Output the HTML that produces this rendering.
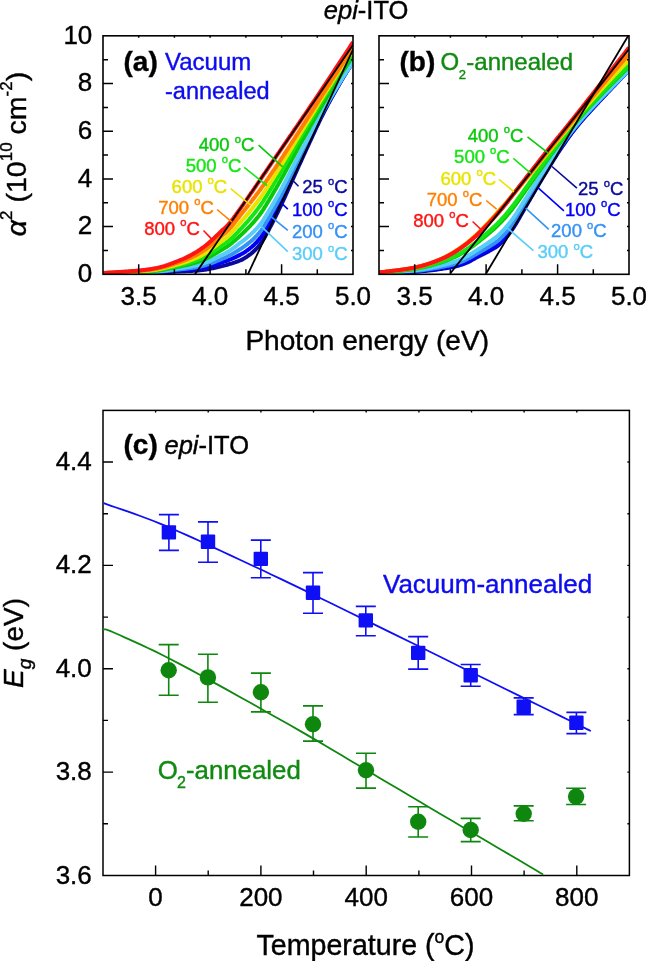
<!DOCTYPE html><html><head><meta charset="utf-8"><style>html,body{margin:0;padding:0;background:#fff;} svg{display:block;will-change:transform} text{font-family:'Liberation Sans',sans-serif}</style></head><body>
<svg width="646" height="961" viewBox="0 0 646 961">
<text x="323.8" y="19.4" font-size="25.5" stroke="#000" stroke-width="0.4"><tspan font-style="italic">epi</tspan>-ITO</text>
<clipPath id="ca"><rect x="103" y="35.8" width="250" height="238.5"/></clipPath>
<g clip-path="url(#ca)">
<path d="M103.0,273.8 L104.0,273.8 L105.0,273.8 L106.0,273.8 L107.0,273.8 L108.0,273.7 L109.0,273.7 L110.0,273.7 L111.0,273.7 L112.0,273.7 L113.0,273.7 L114.0,273.7 L115.0,273.7 L116.0,273.7 L117.0,273.7 L118.0,273.7 L119.0,273.7 L120.0,273.6 L121.0,273.6 L122.0,273.6 L123.0,273.6 L124.0,273.6 L125.0,273.6 L126.0,273.6 L127.0,273.6 L128.0,273.6 L129.0,273.6 L130.0,273.5 L131.0,273.5 L132.0,273.5 L133.0,273.5 L134.0,273.5 L135.0,273.5 L136.0,273.5 L137.0,273.5 L138.0,273.4 L139.0,273.4 L140.0,273.4 L141.0,273.4 L142.0,273.4 L143.0,273.4 L144.0,273.3 L145.0,273.3 L146.0,273.3 L147.0,273.3 L148.0,273.2 L149.0,273.2 L150.0,273.2 L151.0,273.2 L152.0,273.1 L153.0,273.1 L154.0,273.1 L155.0,273.0 L156.0,273.0 L157.0,272.9 L158.0,272.9 L159.0,272.8 L160.0,272.7 L161.0,272.7 L162.0,272.6 L163.0,272.5 L164.0,272.4 L165.0,272.4 L166.0,272.3 L167.0,272.2 L168.0,272.1 L169.0,272.0 L170.0,272.0 L171.0,271.9 L172.0,271.8 L173.0,271.7 L174.0,271.7 L175.0,271.6 L176.0,271.5 L177.0,271.5 L178.0,271.4 L179.0,271.4 L180.0,271.4 L181.0,271.3 L182.0,271.3 L183.0,271.2 L184.0,271.2 L185.0,271.2 L186.0,271.1 L187.0,271.1 L188.0,271.1 L189.0,271.0 L190.0,271.0 L191.0,270.9 L192.0,270.9 L193.0,270.8 L194.0,270.8 L195.0,270.7 L196.0,270.7 L197.0,270.6 L198.0,270.5 L199.0,270.4 L200.0,270.3 L201.0,270.2 L202.0,270.1 L203.0,270.0 L204.0,269.8 L205.0,269.7 L206.0,269.5 L207.0,269.4 L208.0,269.2 L209.0,269.0 L210.0,268.8 L211.0,268.6 L212.0,268.4 L213.0,268.2 L214.0,268.0 L215.0,267.8 L216.0,267.6 L217.0,267.3 L218.0,267.1 L219.0,266.9 L220.0,266.6 L221.0,266.4 L222.0,266.1 L223.0,265.9 L224.0,265.6 L225.0,265.4 L226.0,265.1 L227.0,264.8 L228.0,264.5 L229.0,264.2 L230.0,263.9 L231.0,263.7 L232.0,263.4 L233.0,263.0 L234.0,262.7 L235.0,262.4 L236.0,262.0 L237.0,261.7 L238.0,261.3 L239.0,260.9 L240.0,260.5 L241.0,260.1 L242.0,259.6 L243.0,259.1 L244.0,258.5 L245.0,257.9 L246.0,257.3 L247.0,256.6 L248.0,255.9 L249.0,255.2 L250.0,254.5 L251.0,253.7 L252.0,252.9 L253.0,252.0 L254.0,251.1 L255.0,250.2 L256.0,249.1 L257.0,248.1 L258.0,247.0 L259.0,245.8 L260.0,244.6 L261.0,243.3 L262.0,241.8 L263.0,240.2 L264.0,238.5 L265.0,236.7 L266.0,234.8 L267.0,233.0 L268.0,231.2 L269.0,229.3 L270.0,227.4 L271.0,225.5 L272.0,223.6 L273.0,221.6 L274.0,219.6 L275.0,217.6 L276.0,215.6 L277.0,213.6 L278.0,211.6 L279.0,209.5 L280.0,207.4 L281.0,205.3 L282.0,203.2 L283.0,201.0 L284.0,198.8 L285.0,196.6 L286.0,194.4 L287.0,192.2 L288.0,189.9 L289.0,187.7 L290.0,185.4 L291.0,183.2 L292.0,181.0 L293.0,178.8 L294.0,176.6 L295.0,174.4 L296.0,172.1 L297.0,169.9 L298.0,167.7 L299.0,165.5 L300.0,163.3 L301.0,161.1 L302.0,158.9 L303.0,156.7 L304.0,154.5 L305.0,152.3 L306.0,150.2 L307.0,148.0 L308.0,145.8 L309.0,143.7 L310.0,141.5 L311.0,139.3 L312.0,137.1 L313.0,135.0 L314.0,132.8 L315.0,130.6 L316.0,128.5 L317.0,126.4 L318.0,124.3 L319.0,122.2 L320.0,120.1 L321.0,118.0 L322.0,116.0 L323.0,114.0 L324.0,112.0 L325.0,110.1 L326.0,108.2 L327.0,106.3 L328.0,104.4 L329.0,102.6 L330.0,100.7 L331.0,98.9 L332.0,97.1 L333.0,95.3 L334.0,93.5 L335.0,91.7 L336.0,90.0 L337.0,88.2 L338.0,86.5 L339.0,84.7 L340.0,83.0 L341.0,81.3 L342.0,79.6 L343.0,77.9 L344.0,76.3 L345.0,74.6 L346.0,73.0 L347.0,71.4 L348.0,69.8 L349.0,68.2 L350.0,66.6 L351.0,65.0 L352.0,63.4 L353.0,61.8" stroke="#0a0a9a" stroke-width="4.0" fill="none" stroke-linejoin="round"/>
<path d="M103.0,273.7 L104.0,273.7 L105.0,273.7 L106.0,273.7 L107.0,273.7 L108.0,273.6 L109.0,273.6 L110.0,273.6 L111.0,273.6 L112.0,273.6 L113.0,273.6 L114.0,273.6 L115.0,273.5 L116.0,273.5 L117.0,273.5 L118.0,273.5 L119.0,273.5 L120.0,273.5 L121.0,273.5 L122.0,273.4 L123.0,273.4 L124.0,273.4 L125.0,273.4 L126.0,273.4 L127.0,273.4 L128.0,273.3 L129.0,273.3 L130.0,273.3 L131.0,273.3 L132.0,273.3 L133.0,273.3 L134.0,273.2 L135.0,273.2 L136.0,273.2 L137.0,273.2 L138.0,273.2 L139.0,273.1 L140.0,273.1 L141.0,273.1 L142.0,273.1 L143.0,273.0 L144.0,273.0 L145.0,273.0 L146.0,272.9 L147.0,272.9 L148.0,272.9 L149.0,272.8 L150.0,272.8 L151.0,272.7 L152.0,272.7 L153.0,272.7 L154.0,272.6 L155.0,272.5 L156.0,272.5 L157.0,272.4 L158.0,272.3 L159.0,272.3 L160.0,272.2 L161.0,272.1 L162.0,272.0 L163.0,271.9 L164.0,271.8 L165.0,271.7 L166.0,271.6 L167.0,271.5 L168.0,271.4 L169.0,271.3 L170.0,271.2 L171.0,271.1 L172.0,271.0 L173.0,270.9 L174.0,270.8 L175.0,270.7 L176.0,270.6 L177.0,270.5 L178.0,270.4 L179.0,270.3 L180.0,270.2 L181.0,270.2 L182.0,270.1 L183.0,270.0 L184.0,269.9 L185.0,269.9 L186.0,269.8 L187.0,269.7 L188.0,269.6 L189.0,269.5 L190.0,269.5 L191.0,269.4 L192.0,269.3 L193.0,269.2 L194.0,269.0 L195.0,268.9 L196.0,268.8 L197.0,268.7 L198.0,268.5 L199.0,268.4 L200.0,268.2 L201.0,268.1 L202.0,267.9 L203.0,267.7 L204.0,267.5 L205.0,267.3 L206.0,267.1 L207.0,266.8 L208.0,266.6 L209.0,266.3 L210.0,266.1 L211.0,265.8 L212.0,265.5 L213.0,265.2 L214.0,264.9 L215.0,264.6 L216.0,264.3 L217.0,264.0 L218.0,263.7 L219.0,263.4 L220.0,263.0 L221.0,262.7 L222.0,262.4 L223.0,262.0 L224.0,261.7 L225.0,261.4 L226.0,261.0 L227.0,260.7 L228.0,260.3 L229.0,259.9 L230.0,259.5 L231.0,259.1 L232.0,258.7 L233.0,258.2 L234.0,257.8 L235.0,257.4 L236.0,256.9 L237.0,256.4 L238.0,255.9 L239.0,255.4 L240.0,254.9 L241.0,254.3 L242.0,253.8 L243.0,253.2 L244.0,252.6 L245.0,252.0 L246.0,251.3 L247.0,250.5 L248.0,249.8 L249.0,249.1 L250.0,248.3 L251.0,247.5 L252.0,246.7 L253.0,245.8 L254.0,244.9 L255.0,243.9 L256.0,242.9 L257.0,241.8 L258.0,240.7 L259.0,239.6 L260.0,238.4 L261.0,237.1 L262.0,235.7 L263.0,234.1 L264.0,232.5 L265.0,230.7 L266.0,228.9 L267.0,227.2 L268.0,225.5 L269.0,223.7 L270.0,221.9 L271.0,220.0 L272.0,218.1 L273.0,216.3 L274.0,214.4 L275.0,212.5 L276.0,210.5 L277.0,208.6 L278.0,206.7 L279.0,204.7 L280.0,202.7 L281.0,200.7 L282.0,198.7 L283.0,196.6 L284.0,194.5 L285.0,192.4 L286.0,190.2 L287.0,188.1 L288.0,186.0 L289.0,183.8 L290.0,181.7 L291.0,179.5 L292.0,177.4 L293.0,175.3 L294.0,173.2 L295.0,171.0 L296.0,168.9 L297.0,166.8 L298.0,164.6 L299.0,162.5 L300.0,160.4 L301.0,158.3 L302.0,156.2 L303.0,154.1 L304.0,152.0 L305.0,149.9 L306.0,147.8 L307.0,145.8 L308.0,143.7 L309.0,141.6 L310.0,139.5 L311.0,137.4 L312.0,135.3 L313.0,133.3 L314.0,131.2 L315.0,129.1 L316.0,127.0 L317.0,125.0 L318.0,122.9 L319.0,120.9 L320.0,118.9 L321.0,116.9 L322.0,114.9 L323.0,113.0 L324.0,111.0 L325.0,109.1 L326.0,107.3 L327.0,105.4 L328.0,103.6 L329.0,101.8 L330.0,100.0 L331.0,98.2 L332.0,96.4 L333.0,94.7 L334.0,92.9 L335.0,91.2 L336.0,89.5 L337.0,87.8 L338.0,86.1 L339.0,84.3 L340.0,82.6 L341.0,81.0 L342.0,79.3 L343.0,77.6 L344.0,76.0 L345.0,74.4 L346.0,72.8 L347.0,71.2 L348.0,69.6 L349.0,68.1 L350.0,66.5 L351.0,64.9 L352.0,63.4 L353.0,61.8" stroke="#0000f8" stroke-width="4.0" fill="none" stroke-linejoin="round"/>
<path d="M103.0,273.7 L104.0,273.6 L105.0,273.6 L106.0,273.6 L107.0,273.6 L108.0,273.6 L109.0,273.5 L110.0,273.5 L111.0,273.5 L112.0,273.5 L113.0,273.5 L114.0,273.4 L115.0,273.4 L116.0,273.4 L117.0,273.4 L118.0,273.4 L119.0,273.4 L120.0,273.3 L121.0,273.3 L122.0,273.3 L123.0,273.3 L124.0,273.3 L125.0,273.2 L126.0,273.2 L127.0,273.2 L128.0,273.2 L129.0,273.2 L130.0,273.1 L131.0,273.1 L132.0,273.1 L133.0,273.1 L134.0,273.0 L135.0,273.0 L136.0,273.0 L137.0,273.0 L138.0,272.9 L139.0,272.9 L140.0,272.9 L141.0,272.8 L142.0,272.8 L143.0,272.8 L144.0,272.7 L145.0,272.7 L146.0,272.7 L147.0,272.6 L148.0,272.6 L149.0,272.5 L150.0,272.5 L151.0,272.4 L152.0,272.4 L153.0,272.3 L154.0,272.2 L155.0,272.2 L156.0,272.1 L157.0,272.0 L158.0,271.9 L159.0,271.8 L160.0,271.7 L161.0,271.6 L162.0,271.5 L163.0,271.4 L164.0,271.3 L165.0,271.2 L166.0,271.1 L167.0,270.9 L168.0,270.8 L169.0,270.7 L170.0,270.5 L171.0,270.4 L172.0,270.3 L173.0,270.2 L174.0,270.0 L175.0,269.9 L176.0,269.8 L177.0,269.7 L178.0,269.6 L179.0,269.5 L180.0,269.4 L181.0,269.3 L182.0,269.1 L183.0,269.0 L184.0,268.9 L185.0,268.8 L186.0,268.7 L187.0,268.6 L188.0,268.5 L189.0,268.3 L190.0,268.2 L191.0,268.1 L192.0,267.9 L193.0,267.8 L194.0,267.7 L195.0,267.5 L196.0,267.3 L197.0,267.2 L198.0,267.0 L199.0,266.8 L200.0,266.6 L201.0,266.4 L202.0,266.1 L203.0,265.9 L204.0,265.6 L205.0,265.3 L206.0,265.0 L207.0,264.7 L208.0,264.4 L209.0,264.0 L210.0,263.7 L211.0,263.3 L212.0,263.0 L213.0,262.6 L214.0,262.2 L215.0,261.8 L216.0,261.4 L217.0,261.0 L218.0,260.6 L219.0,260.2 L220.0,259.8 L221.0,259.3 L222.0,258.9 L223.0,258.5 L224.0,258.1 L225.0,257.7 L226.0,257.2 L227.0,256.8 L228.0,256.3 L229.0,255.8 L230.0,255.2 L231.0,254.7 L232.0,254.2 L233.0,253.6 L234.0,253.0 L235.0,252.4 L236.0,251.8 L237.0,251.2 L238.0,250.5 L239.0,249.9 L240.0,249.2 L241.0,248.6 L242.0,248.0 L243.0,247.3 L244.0,246.6 L245.0,245.9 L246.0,245.2 L247.0,244.4 L248.0,243.6 L249.0,242.8 L250.0,242.0 L251.0,241.2 L252.0,240.3 L253.0,239.4 L254.0,238.4 L255.0,237.5 L256.0,236.4 L257.0,235.4 L258.0,234.2 L259.0,233.1 L260.0,231.9 L261.0,230.6 L262.0,229.3 L263.0,227.8 L264.0,226.2 L265.0,224.5 L266.0,222.8 L267.0,221.1 L268.0,219.4 L269.0,217.7 L270.0,216.0 L271.0,214.2 L272.0,212.4 L273.0,210.6 L274.0,208.8 L275.0,206.9 L276.0,205.1 L277.0,203.3 L278.0,201.4 L279.0,199.5 L280.0,197.6 L281.0,195.7 L282.0,193.7 L283.0,191.8 L284.0,189.8 L285.0,187.7 L286.0,185.7 L287.0,183.6 L288.0,181.6 L289.0,179.5 L290.0,177.5 L291.0,175.4 L292.0,173.4 L293.0,171.4 L294.0,169.3 L295.0,167.3 L296.0,165.2 L297.0,163.2 L298.0,161.1 L299.0,159.1 L300.0,157.0 L301.0,155.1 L302.0,153.1 L303.0,151.1 L304.0,149.1 L305.0,147.2 L306.0,145.2 L307.0,143.2 L308.0,141.3 L309.0,139.3 L310.0,137.3 L311.0,135.3 L312.0,133.3 L313.0,131.3 L314.0,129.3 L315.0,127.3 L316.0,125.3 L317.0,123.3 L318.0,121.4 L319.0,119.4 L320.0,117.5 L321.0,115.5 L322.0,113.6 L323.0,111.8 L324.0,109.9 L325.0,108.1 L326.0,106.2 L327.0,104.5 L328.0,102.7 L329.0,100.9 L330.0,99.2 L331.0,97.4 L332.0,95.7 L333.0,94.0 L334.0,92.3 L335.0,90.6 L336.0,88.9 L337.0,87.2 L338.0,85.6 L339.0,83.9 L340.0,82.2 L341.0,80.6 L342.0,78.9 L343.0,77.3 L344.0,75.7 L345.0,74.2 L346.0,72.6 L347.0,71.0 L348.0,69.5 L349.0,68.0 L350.0,66.4 L351.0,64.9 L352.0,63.4 L353.0,61.8" stroke="#3592f5" stroke-width="4.0" fill="none" stroke-linejoin="round"/>
<path d="M103.0,273.6 L104.0,273.6 L105.0,273.5 L106.0,273.5 L107.0,273.5 L108.0,273.4 L109.0,273.4 L110.0,273.4 L111.0,273.4 L112.0,273.4 L113.0,273.3 L114.0,273.3 L115.0,273.3 L116.0,273.3 L117.0,273.2 L118.0,273.2 L119.0,273.2 L120.0,273.2 L121.0,273.1 L122.0,273.1 L123.0,273.1 L124.0,273.1 L125.0,273.0 L126.0,273.0 L127.0,273.0 L128.0,273.0 L129.0,272.9 L130.0,272.9 L131.0,272.9 L132.0,272.8 L133.0,272.8 L134.0,272.8 L135.0,272.7 L136.0,272.7 L137.0,272.7 L138.0,272.6 L139.0,272.6 L140.0,272.6 L141.0,272.5 L142.0,272.5 L143.0,272.4 L144.0,272.4 L145.0,272.4 L146.0,272.3 L147.0,272.2 L148.0,272.2 L149.0,272.1 L150.0,272.1 L151.0,272.0 L152.0,271.9 L153.0,271.9 L154.0,271.8 L155.0,271.7 L156.0,271.6 L157.0,271.5 L158.0,271.4 L159.0,271.3 L160.0,271.2 L161.0,271.1 L162.0,270.9 L163.0,270.8 L164.0,270.7 L165.0,270.5 L166.0,270.4 L167.0,270.2 L168.0,270.1 L169.0,269.9 L170.0,269.8 L171.0,269.6 L172.0,269.4 L173.0,269.3 L174.0,269.1 L175.0,269.0 L176.0,268.8 L177.0,268.7 L178.0,268.5 L179.0,268.4 L180.0,268.2 L181.0,268.1 L182.0,268.0 L183.0,267.8 L184.0,267.7 L185.0,267.5 L186.0,267.4 L187.0,267.2 L188.0,267.0 L189.0,266.9 L190.0,266.7 L191.0,266.5 L192.0,266.3 L193.0,266.1 L194.0,265.9 L195.0,265.7 L196.0,265.5 L197.0,265.3 L198.0,265.0 L199.0,264.8 L200.0,264.5 L201.0,264.2 L202.0,263.9 L203.0,263.6 L204.0,263.2 L205.0,262.9 L206.0,262.5 L207.0,262.1 L208.0,261.7 L209.0,261.3 L210.0,260.9 L211.0,260.4 L212.0,260.0 L213.0,259.5 L214.0,259.0 L215.0,258.5 L216.0,258.0 L217.0,257.5 L218.0,257.0 L219.0,256.5 L220.0,256.0 L221.0,255.5 L222.0,255.0 L223.0,254.5 L224.0,254.0 L225.0,253.5 L226.0,252.9 L227.0,252.4 L228.0,251.8 L229.0,251.1 L230.0,250.5 L231.0,249.8 L232.0,249.1 L233.0,248.4 L234.0,247.7 L235.0,247.0 L236.0,246.2 L237.0,245.4 L238.0,244.6 L239.0,243.8 L240.0,243.0 L241.0,242.3 L242.0,241.6 L243.0,240.9 L244.0,240.1 L245.0,239.3 L246.0,238.5 L247.0,237.6 L248.0,236.8 L249.0,235.9 L250.0,235.0 L251.0,234.2 L252.0,233.2 L253.0,232.3 L254.0,231.3 L255.0,230.2 L256.0,229.2 L257.0,228.1 L258.0,227.0 L259.0,225.8 L260.0,224.6 L261.0,223.3 L262.0,222.0 L263.0,220.5 L264.0,219.0 L265.0,217.3 L266.0,215.7 L267.0,214.1 L268.0,212.5 L269.0,210.8 L270.0,209.1 L271.0,207.4 L272.0,205.7 L273.0,204.0 L274.0,202.3 L275.0,200.5 L276.0,198.7 L277.0,197.0 L278.0,195.2 L279.0,193.4 L280.0,191.6 L281.0,189.7 L282.0,187.9 L283.0,186.0 L284.0,184.1 L285.0,182.2 L286.0,180.2 L287.0,178.3 L288.0,176.3 L289.0,174.4 L290.0,172.4 L291.0,170.5 L292.0,168.5 L293.0,166.6 L294.0,164.6 L295.0,162.7 L296.0,160.7 L297.0,158.8 L298.0,156.8 L299.0,154.8 L300.0,152.9 L301.0,151.1 L302.0,149.2 L303.0,147.4 L304.0,145.6 L305.0,143.7 L306.0,141.9 L307.0,140.0 L308.0,138.2 L309.0,136.3 L310.0,134.5 L311.0,132.6 L312.0,130.7 L313.0,128.8 L314.0,127.0 L315.0,125.1 L316.0,123.2 L317.0,121.3 L318.0,119.4 L319.0,117.6 L320.0,115.7 L321.0,113.9 L322.0,112.1 L323.0,110.3 L324.0,108.5 L325.0,106.7 L326.0,105.0 L327.0,103.2 L328.0,101.5 L329.0,99.8 L330.0,98.1 L331.0,96.5 L332.0,94.8 L333.0,93.1 L334.0,91.5 L335.0,89.8 L336.0,88.2 L337.0,86.6 L338.0,85.0 L339.0,83.3 L340.0,81.7 L341.0,80.1 L342.0,78.5 L343.0,76.9 L344.0,75.4 L345.0,73.9 L346.0,72.3 L347.0,70.8 L348.0,69.3 L349.0,67.8 L350.0,66.3 L351.0,64.8 L352.0,63.3 L353.0,61.8" stroke="#58cdfa" stroke-width="4.0" fill="none" stroke-linejoin="round"/>
<path d="M103.0,273.4 L104.0,273.4 L105.0,273.4 L106.0,273.3 L107.0,273.3 L108.0,273.3 L109.0,273.2 L110.0,273.2 L111.0,273.2 L112.0,273.1 L113.0,273.1 L114.0,273.1 L115.0,273.1 L116.0,273.0 L117.0,273.0 L118.0,273.0 L119.0,272.9 L120.0,272.9 L121.0,272.9 L122.0,272.8 L123.0,272.8 L124.0,272.8 L125.0,272.7 L126.0,272.7 L127.0,272.6 L128.0,272.6 L129.0,272.6 L130.0,272.5 L131.0,272.5 L132.0,272.5 L133.0,272.4 L134.0,272.4 L135.0,272.3 L136.0,272.3 L137.0,272.2 L138.0,272.2 L139.0,272.1 L140.0,272.1 L141.0,272.0 L142.0,272.0 L143.0,271.9 L144.0,271.9 L145.0,271.8 L146.0,271.7 L147.0,271.7 L148.0,271.6 L149.0,271.5 L150.0,271.4 L151.0,271.3 L152.0,271.3 L153.0,271.2 L154.0,271.0 L155.0,270.9 L156.0,270.8 L157.0,270.7 L158.0,270.6 L159.0,270.4 L160.0,270.3 L161.0,270.1 L162.0,270.0 L163.0,269.8 L164.0,269.6 L165.0,269.5 L166.0,269.3 L167.0,269.1 L168.0,268.9 L169.0,268.7 L170.0,268.5 L171.0,268.3 L172.0,268.1 L173.0,267.9 L174.0,267.7 L175.0,267.5 L176.0,267.3 L177.0,267.1 L178.0,266.9 L179.0,266.7 L180.0,266.5 L181.0,266.3 L182.0,266.1 L183.0,265.8 L184.0,265.6 L185.0,265.4 L186.0,265.2 L187.0,265.0 L188.0,264.7 L189.0,264.5 L190.0,264.2 L191.0,264.0 L192.0,263.7 L193.0,263.4 L194.0,263.1 L195.0,262.8 L196.0,262.5 L197.0,262.2 L198.0,261.9 L199.0,261.5 L200.0,261.2 L201.0,260.8 L202.0,260.4 L203.0,260.0 L204.0,259.6 L205.0,259.2 L206.0,258.7 L207.0,258.2 L208.0,257.7 L209.0,257.2 L210.0,256.7 L211.0,256.1 L212.0,255.6 L213.0,255.0 L214.0,254.5 L215.0,253.9 L216.0,253.3 L217.0,252.7 L218.0,252.1 L219.0,251.5 L220.0,250.8 L221.0,250.2 L222.0,249.6 L223.0,249.1 L224.0,248.5 L225.0,247.9 L226.0,247.3 L227.0,246.7 L228.0,246.0 L229.0,245.2 L230.0,244.5 L231.0,243.7 L232.0,242.9 L233.0,242.0 L234.0,241.2 L235.0,240.4 L236.0,239.5 L237.0,238.6 L238.0,237.7 L239.0,236.8 L240.0,235.8 L241.0,234.9 L242.0,234.0 L243.0,233.1 L244.0,232.1 L245.0,231.2 L246.0,230.2 L247.0,229.2 L248.0,228.2 L249.0,227.1 L250.0,226.1 L251.0,225.0 L252.0,223.9 L253.0,222.8 L254.0,221.7 L255.0,220.5 L256.0,219.3 L257.0,218.1 L258.0,216.9 L259.0,215.6 L260.0,214.3 L261.0,212.9 L262.0,211.5 L263.0,210.0 L264.0,208.4 L265.0,206.8 L266.0,205.2 L267.0,203.5 L268.0,201.9 L269.0,200.3 L270.0,198.6 L271.0,196.9 L272.0,195.2 L273.0,193.5 L274.0,191.8 L275.0,190.1 L276.0,188.4 L277.0,186.6 L278.0,184.9 L279.0,183.1 L280.0,181.4 L281.0,179.6 L282.0,177.8 L283.0,176.0 L284.0,174.2 L285.0,172.3 L286.0,170.5 L287.0,168.6 L288.0,166.8 L289.0,164.9 L290.0,163.0 L291.0,161.2 L292.0,159.3 L293.0,157.5 L294.0,155.7 L295.0,153.8 L296.0,152.0 L297.0,150.1 L298.0,148.2 L299.0,146.4 L300.0,144.5 L301.0,142.8 L302.0,141.0 L303.0,139.3 L304.0,137.5 L305.0,135.7 L306.0,134.0 L307.0,132.2 L308.0,130.5 L309.0,128.7 L310.0,126.9 L311.0,125.1 L312.0,123.3 L313.0,121.5 L314.0,119.7 L315.0,117.9 L316.0,116.2 L317.0,114.4 L318.0,112.6 L319.0,110.8 L320.0,109.0 L321.0,107.3 L322.0,105.5 L323.0,103.8 L324.0,102.1 L325.0,100.4 L326.0,98.7 L327.0,97.0 L328.0,95.4 L329.0,93.7 L330.0,92.1 L331.0,90.4 L332.0,88.8 L333.0,87.2 L334.0,85.5 L335.0,83.9 L336.0,82.3 L337.0,80.7 L338.0,79.1 L339.0,77.5 L340.0,75.9 L341.0,74.3 L342.0,72.7 L343.0,71.2 L344.0,69.6 L345.0,68.1 L346.0,66.5 L347.0,65.0 L348.0,63.5 L349.0,62.0 L350.0,60.5 L351.0,59.0 L352.0,57.4 L353.0,55.9" stroke="#0ac80a" stroke-width="4.0" fill="none" stroke-linejoin="round"/>
<path d="M103.0,273.4 L104.0,273.3 L105.0,273.3 L106.0,273.2 L107.0,273.2 L108.0,273.2 L109.0,273.1 L110.0,273.1 L111.0,273.0 L112.0,273.0 L113.0,273.0 L114.0,272.9 L115.0,272.9 L116.0,272.9 L117.0,272.8 L118.0,272.8 L119.0,272.7 L120.0,272.7 L121.0,272.7 L122.0,272.6 L123.0,272.6 L124.0,272.5 L125.0,272.5 L126.0,272.5 L127.0,272.4 L128.0,272.4 L129.0,272.3 L130.0,272.3 L131.0,272.2 L132.0,272.2 L133.0,272.1 L134.0,272.1 L135.0,272.0 L136.0,272.0 L137.0,271.9 L138.0,271.9 L139.0,271.8 L140.0,271.8 L141.0,271.7 L142.0,271.6 L143.0,271.6 L144.0,271.5 L145.0,271.4 L146.0,271.3 L147.0,271.3 L148.0,271.2 L149.0,271.1 L150.0,271.0 L151.0,270.9 L152.0,270.8 L153.0,270.7 L154.0,270.5 L155.0,270.4 L156.0,270.3 L157.0,270.1 L158.0,270.0 L159.0,269.8 L160.0,269.7 L161.0,269.5 L162.0,269.3 L163.0,269.1 L164.0,268.9 L165.0,268.7 L166.0,268.5 L167.0,268.3 L168.0,268.1 L169.0,267.9 L170.0,267.6 L171.0,267.4 L172.0,267.1 L173.0,266.9 L174.0,266.7 L175.0,266.4 L176.0,266.2 L177.0,266.0 L178.0,265.7 L179.0,265.5 L180.0,265.2 L181.0,265.0 L182.0,264.8 L183.0,264.5 L184.0,264.2 L185.0,264.0 L186.0,263.7 L187.0,263.4 L188.0,263.1 L189.0,262.8 L190.0,262.5 L191.0,262.2 L192.0,261.9 L193.0,261.5 L194.0,261.2 L195.0,260.8 L196.0,260.5 L197.0,260.1 L198.0,259.7 L199.0,259.3 L200.0,258.9 L201.0,258.5 L202.0,258.0 L203.0,257.5 L204.0,257.0 L205.0,256.5 L206.0,256.0 L207.0,255.4 L208.0,254.8 L209.0,254.2 L210.0,253.6 L211.0,253.0 L212.0,252.4 L213.0,251.7 L214.0,251.1 L215.0,250.4 L216.0,249.7 L217.0,249.0 L218.0,248.3 L219.0,247.6 L220.0,246.9 L221.0,246.2 L222.0,245.5 L223.0,244.9 L224.0,244.2 L225.0,243.6 L226.0,242.9 L227.0,242.1 L228.0,241.3 L229.0,240.5 L230.0,239.6 L231.0,238.7 L232.0,237.8 L233.0,236.8 L234.0,235.8 L235.0,234.8 L236.0,233.8 L237.0,232.8 L238.0,231.8 L239.0,230.7 L240.0,229.6 L241.0,228.6 L242.0,227.6 L243.0,226.5 L244.0,225.4 L245.0,224.3 L246.0,223.2 L247.0,222.1 L248.0,220.9 L249.0,219.8 L250.0,218.6 L251.0,217.4 L252.0,216.2 L253.0,215.0 L254.0,213.8 L255.0,212.5 L256.0,211.2 L257.0,209.9 L258.0,208.6 L259.0,207.3 L260.0,205.9 L261.0,204.5 L262.0,203.0 L263.0,201.5 L264.0,199.9 L265.0,198.3 L266.0,196.7 L267.0,195.1 L268.0,193.5 L269.0,191.9 L270.0,190.2 L271.0,188.6 L272.0,186.9 L273.0,185.3 L274.0,183.6 L275.0,181.9 L276.0,180.2 L277.0,178.5 L278.0,176.9 L279.0,175.2 L280.0,173.5 L281.0,171.7 L282.0,170.0 L283.0,168.3 L284.0,166.5 L285.0,164.8 L286.0,163.0 L287.0,161.2 L288.0,159.5 L289.0,157.7 L290.0,155.9 L291.0,154.1 L292.0,152.4 L293.0,150.6 L294.0,148.9 L295.0,147.1 L296.0,145.3 L297.0,143.6 L298.0,141.8 L299.0,140.1 L300.0,138.3 L301.0,136.6 L302.0,134.9 L303.0,133.2 L304.0,131.5 L305.0,129.9 L306.0,128.2 L307.0,126.5 L308.0,124.8 L309.0,123.1 L310.0,121.4 L311.0,119.7 L312.0,118.0 L313.0,116.3 L314.0,114.5 L315.0,112.8 L316.0,111.1 L317.0,109.4 L318.0,107.7 L319.0,106.0 L320.0,104.3 L321.0,102.6 L322.0,100.9 L323.0,99.3 L324.0,97.6 L325.0,96.0 L326.0,94.3 L327.0,92.7 L328.0,91.1 L329.0,89.4 L330.0,87.8 L331.0,86.2 L332.0,84.6 L333.0,83.0 L334.0,81.4 L335.0,79.8 L336.0,78.2 L337.0,76.7 L338.0,75.1 L339.0,73.5 L340.0,71.9 L341.0,70.4 L342.0,68.8 L343.0,67.2 L344.0,65.7 L345.0,64.2 L346.0,62.6 L347.0,61.1 L348.0,59.6 L349.0,58.1 L350.0,56.5 L351.0,55.0 L352.0,53.5 L353.0,52.0" stroke="#14e614" stroke-width="4.0" fill="none" stroke-linejoin="round"/>
<path d="M103.0,273.3 L104.0,273.2 L105.0,273.2 L106.0,273.1 L107.0,273.1 L108.0,273.0 L109.0,273.0 L110.0,272.9 L111.0,272.9 L112.0,272.8 L113.0,272.8 L114.0,272.7 L115.0,272.7 L116.0,272.7 L117.0,272.6 L118.0,272.6 L119.0,272.5 L120.0,272.5 L121.0,272.4 L122.0,272.4 L123.0,272.3 L124.0,272.3 L125.0,272.2 L126.0,272.2 L127.0,272.1 L128.0,272.1 L129.0,272.0 L130.0,272.0 L131.0,271.9 L132.0,271.9 L133.0,271.8 L134.0,271.8 L135.0,271.7 L136.0,271.6 L137.0,271.6 L138.0,271.5 L139.0,271.4 L140.0,271.4 L141.0,271.3 L142.0,271.2 L143.0,271.1 L144.0,271.0 L145.0,271.0 L146.0,270.9 L147.0,270.8 L148.0,270.7 L149.0,270.6 L150.0,270.5 L151.0,270.3 L152.0,270.2 L153.0,270.1 L154.0,270.0 L155.0,269.8 L156.0,269.7 L157.0,269.5 L158.0,269.3 L159.0,269.1 L160.0,269.0 L161.0,268.8 L162.0,268.6 L163.0,268.3 L164.0,268.1 L165.0,267.9 L166.0,267.6 L167.0,267.4 L168.0,267.1 L169.0,266.9 L170.0,266.6 L171.0,266.3 L172.0,266.0 L173.0,265.8 L174.0,265.5 L175.0,265.2 L176.0,264.9 L177.0,264.7 L178.0,264.4 L179.0,264.1 L180.0,263.8 L181.0,263.5 L182.0,263.2 L183.0,262.9 L184.0,262.6 L185.0,262.3 L186.0,261.9 L187.0,261.6 L188.0,261.3 L189.0,260.9 L190.0,260.5 L191.0,260.1 L192.0,259.7 L193.0,259.3 L194.0,258.9 L195.0,258.5 L196.0,258.1 L197.0,257.6 L198.0,257.2 L199.0,256.7 L200.0,256.2 L201.0,255.7 L202.0,255.2 L203.0,254.6 L204.0,254.0 L205.0,253.4 L206.0,252.8 L207.0,252.2 L208.0,251.5 L209.0,250.8 L210.0,250.1 L211.0,249.4 L212.0,248.7 L213.0,247.9 L214.0,247.2 L215.0,246.4 L216.0,245.6 L217.0,244.9 L218.0,244.1 L219.0,243.2 L220.0,242.4 L221.0,241.6 L222.0,240.9 L223.0,240.2 L224.0,239.5 L225.0,238.7 L226.0,237.9 L227.0,237.1 L228.0,236.2 L229.0,235.2 L230.0,234.2 L231.0,233.2 L232.0,232.1 L233.0,231.0 L234.0,229.9 L235.0,228.8 L236.0,227.7 L237.0,226.5 L238.0,225.3 L239.0,224.1 L240.0,222.9 L241.0,221.8 L242.0,220.7 L243.0,219.5 L244.0,218.4 L245.0,217.2 L246.0,216.0 L247.0,214.8 L248.0,213.6 L249.0,212.4 L250.0,211.1 L251.0,209.9 L252.0,208.6 L253.0,207.4 L254.0,206.1 L255.0,204.8 L256.0,203.5 L257.0,202.2 L258.0,200.9 L259.0,199.5 L260.0,198.2 L261.0,196.8 L262.0,195.3 L263.0,193.9 L264.0,192.4 L265.0,190.8 L266.0,189.3 L267.0,187.7 L268.0,186.2 L269.0,184.7 L270.0,183.1 L271.0,181.5 L272.0,180.0 L273.0,178.4 L274.0,176.8 L275.0,175.2 L276.0,173.6 L277.0,172.0 L278.0,170.4 L279.0,168.8 L280.0,167.2 L281.0,165.6 L282.0,164.0 L283.0,162.3 L284.0,160.7 L285.0,159.1 L286.0,157.4 L287.0,155.7 L288.0,154.1 L289.0,152.4 L290.0,150.7 L291.0,149.1 L292.0,147.4 L293.0,145.8 L294.0,144.1 L295.0,142.4 L296.0,140.8 L297.0,139.1 L298.0,137.5 L299.0,135.8 L300.0,134.1 L301.0,132.5 L302.0,130.9 L303.0,129.3 L304.0,127.7 L305.0,126.0 L306.0,124.4 L307.0,122.8 L308.0,121.2 L309.0,119.6 L310.0,117.9 L311.0,116.3 L312.0,114.7 L313.0,113.0 L314.0,111.4 L315.0,109.7 L316.0,108.1 L317.0,106.4 L318.0,104.8 L319.0,103.1 L320.0,101.5 L321.0,99.9 L322.0,98.2 L323.0,96.6 L324.0,95.0 L325.0,93.4 L326.0,91.8 L327.0,90.2 L328.0,88.6 L329.0,87.0 L330.0,85.5 L331.0,83.9 L332.0,82.3 L333.0,80.7 L334.0,79.2 L335.0,77.6 L336.0,76.0 L337.0,74.5 L338.0,72.9 L339.0,71.4 L340.0,69.8 L341.0,68.3 L342.0,66.7 L343.0,65.2 L344.0,63.7 L345.0,62.1 L346.0,60.6 L347.0,59.1 L348.0,57.6 L349.0,56.1 L350.0,54.6 L351.0,53.1 L352.0,51.6 L353.0,50.0" stroke="#e8e400" stroke-width="4.0" fill="none" stroke-linejoin="round"/>
<path d="M103.0,273.1 L104.0,273.1 L105.0,273.0 L106.0,273.0 L107.0,272.9 L108.0,272.8 L109.0,272.8 L110.0,272.7 L111.0,272.7 L112.0,272.6 L113.0,272.6 L114.0,272.5 L115.0,272.5 L116.0,272.4 L117.0,272.4 L118.0,272.3 L119.0,272.3 L120.0,272.2 L121.0,272.1 L122.0,272.1 L123.0,272.0 L124.0,272.0 L125.0,271.9 L126.0,271.9 L127.0,271.8 L128.0,271.7 L129.0,271.7 L130.0,271.6 L131.0,271.5 L132.0,271.5 L133.0,271.4 L134.0,271.3 L135.0,271.3 L136.0,271.2 L137.0,271.1 L138.0,271.0 L139.0,271.0 L140.0,270.9 L141.0,270.8 L142.0,270.7 L143.0,270.6 L144.0,270.5 L145.0,270.4 L146.0,270.3 L147.0,270.2 L148.0,270.1 L149.0,270.0 L150.0,269.8 L151.0,269.7 L152.0,269.5 L153.0,269.4 L154.0,269.2 L155.0,269.1 L156.0,268.9 L157.0,268.7 L158.0,268.5 L159.0,268.3 L160.0,268.1 L161.0,267.8 L162.0,267.6 L163.0,267.4 L164.0,267.1 L165.0,266.8 L166.0,266.5 L167.0,266.3 L168.0,266.0 L169.0,265.6 L170.0,265.3 L171.0,265.0 L172.0,264.7 L173.0,264.4 L174.0,264.0 L175.0,263.7 L176.0,263.4 L177.0,263.0 L178.0,262.7 L179.0,262.4 L180.0,262.0 L181.0,261.7 L182.0,261.3 L183.0,260.9 L184.0,260.6 L185.0,260.2 L186.0,259.8 L187.0,259.4 L188.0,259.0 L189.0,258.5 L190.0,258.1 L191.0,257.6 L192.0,257.1 L193.0,256.6 L194.0,256.1 L195.0,255.6 L196.0,255.1 L197.0,254.6 L198.0,254.1 L199.0,253.5 L200.0,252.9 L201.0,252.3 L202.0,251.7 L203.0,251.0 L204.0,250.4 L205.0,249.7 L206.0,249.0 L207.0,248.3 L208.0,247.5 L209.0,246.7 L210.0,245.9 L211.0,245.1 L212.0,244.3 L213.0,243.5 L214.0,242.6 L215.0,241.8 L216.0,240.9 L217.0,240.0 L218.0,239.1 L219.0,238.2 L220.0,237.3 L221.0,236.4 L222.0,235.6 L223.0,234.8 L224.0,234.0 L225.0,233.2 L226.0,232.3 L227.0,231.4 L228.0,230.4 L229.0,229.3 L230.0,228.2 L231.0,227.1 L232.0,225.9 L233.0,224.7 L234.0,223.4 L235.0,222.2 L236.0,220.9 L237.0,219.6 L238.0,218.3 L239.0,217.1 L240.0,215.7 L241.0,214.5 L242.0,213.3 L243.0,212.0 L244.0,210.8 L245.0,209.5 L246.0,208.3 L247.0,207.0 L248.0,205.7 L249.0,204.4 L250.0,203.2 L251.0,201.9 L252.0,200.6 L253.0,199.3 L254.0,198.0 L255.0,196.7 L256.0,195.3 L257.0,194.0 L258.0,192.7 L259.0,191.3 L260.0,190.0 L261.0,188.6 L262.0,187.2 L263.0,185.8 L264.0,184.4 L265.0,182.9 L266.0,181.5 L267.0,180.0 L268.0,178.6 L269.0,177.1 L270.0,175.7 L271.0,174.2 L272.0,172.7 L273.0,171.2 L274.0,169.8 L275.0,168.3 L276.0,166.8 L277.0,165.3 L278.0,163.8 L279.0,162.3 L280.0,160.8 L281.0,159.3 L282.0,157.8 L283.0,156.3 L284.0,154.7 L285.0,153.2 L286.0,151.7 L287.0,150.1 L288.0,148.6 L289.0,147.0 L290.0,145.5 L291.0,144.0 L292.0,142.4 L293.0,140.9 L294.0,139.3 L295.0,137.8 L296.0,136.2 L297.0,134.6 L298.0,133.1 L299.0,131.5 L300.0,130.0 L301.0,128.4 L302.0,126.9 L303.0,125.3 L304.0,123.8 L305.0,122.2 L306.0,120.7 L307.0,119.1 L308.0,117.6 L309.0,116.0 L310.0,114.5 L311.0,112.9 L312.0,111.3 L313.0,109.8 L314.0,108.2 L315.0,106.6 L316.0,105.0 L317.0,103.4 L318.0,101.9 L319.0,100.3 L320.0,98.7 L321.0,97.1 L322.0,95.5 L323.0,94.0 L324.0,92.4 L325.0,90.8 L326.0,89.3 L327.0,87.7 L328.0,86.2 L329.0,84.6 L330.0,83.1 L331.0,81.5 L332.0,80.0 L333.0,78.5 L334.0,76.9 L335.0,75.4 L336.0,73.8 L337.0,72.3 L338.0,70.8 L339.0,69.2 L340.0,67.7 L341.0,66.2 L342.0,64.6 L343.0,63.1 L344.0,61.6 L345.0,60.1 L346.0,58.6 L347.0,57.1 L348.0,55.6 L349.0,54.1 L350.0,52.6 L351.0,51.1 L352.0,49.6 L353.0,48.1" stroke="#ff8000" stroke-width="4.0" fill="none" stroke-linejoin="round"/>
<path d="M103.0,273.0 L104.0,272.9 L105.0,272.9 L106.0,272.8 L107.0,272.7 L108.0,272.7 L109.0,272.6 L110.0,272.6 L111.0,272.5 L112.0,272.4 L113.0,272.4 L114.0,272.3 L115.0,272.2 L116.0,272.2 L117.0,272.1 L118.0,272.1 L119.0,272.0 L120.0,271.9 L121.0,271.9 L122.0,271.8 L123.0,271.7 L124.0,271.7 L125.0,271.6 L126.0,271.5 L127.0,271.5 L128.0,271.4 L129.0,271.3 L130.0,271.2 L131.0,271.2 L132.0,271.1 L133.0,271.0 L134.0,270.9 L135.0,270.9 L136.0,270.8 L137.0,270.7 L138.0,270.6 L139.0,270.5 L140.0,270.4 L141.0,270.3 L142.0,270.2 L143.0,270.1 L144.0,270.0 L145.0,269.9 L146.0,269.7 L147.0,269.6 L148.0,269.5 L149.0,269.3 L150.0,269.2 L151.0,269.0 L152.0,268.9 L153.0,268.7 L154.0,268.5 L155.0,268.3 L156.0,268.1 L157.0,267.9 L158.0,267.7 L159.0,267.4 L160.0,267.2 L161.0,266.9 L162.0,266.7 L163.0,266.4 L164.0,266.1 L165.0,265.8 L166.0,265.4 L167.0,265.1 L168.0,264.8 L169.0,264.4 L170.0,264.1 L171.0,263.7 L172.0,263.3 L173.0,263.0 L174.0,262.6 L175.0,262.2 L176.0,261.8 L177.0,261.4 L178.0,261.0 L179.0,260.6 L180.0,260.2 L181.0,259.8 L182.0,259.4 L183.0,259.0 L184.0,258.5 L185.0,258.1 L186.0,257.6 L187.0,257.1 L188.0,256.6 L189.0,256.1 L190.0,255.6 L191.0,255.1 L192.0,254.5 L193.0,253.9 L194.0,253.4 L195.0,252.8 L196.0,252.2 L197.0,251.6 L198.0,250.9 L199.0,250.3 L200.0,249.6 L201.0,248.9 L202.0,248.2 L203.0,247.5 L204.0,246.8 L205.0,246.0 L206.0,245.2 L207.0,244.4 L208.0,243.6 L209.0,242.7 L210.0,241.8 L211.0,240.9 L212.0,240.0 L213.0,239.1 L214.0,238.2 L215.0,237.2 L216.0,236.2 L217.0,235.3 L218.0,234.3 L219.0,233.3 L220.0,232.3 L221.0,231.4 L222.0,230.4 L223.0,229.6 L224.0,228.8 L225.0,227.9 L226.0,227.0 L227.0,226.0 L228.0,224.9 L229.0,223.7 L230.0,222.5 L231.0,221.3 L232.0,220.0 L233.0,218.7 L234.0,217.3 L235.0,216.0 L236.0,214.6 L237.0,213.2 L238.0,211.8 L239.0,210.5 L240.0,209.0 L241.0,207.6 L242.0,206.2 L243.0,204.8 L244.0,203.3 L245.0,201.9 L246.0,200.5 L247.0,199.0 L248.0,197.6 L249.0,196.1 L250.0,194.7 L251.0,193.2 L252.0,191.8 L253.0,190.3 L254.0,188.9 L255.0,187.4 L256.0,186.0 L257.0,184.5 L258.0,183.0 L259.0,181.6 L260.0,180.1 L261.0,178.6 L262.0,177.2 L263.0,175.7 L264.0,174.2 L265.0,172.8 L266.0,171.3 L267.0,169.8 L268.0,168.4 L269.0,166.9 L270.0,165.4 L271.0,164.0 L272.0,162.5 L273.0,161.0 L274.0,159.6 L275.0,158.1 L276.0,156.6 L277.0,155.2 L278.0,153.7 L279.0,152.3 L280.0,150.8 L281.0,149.3 L282.0,147.9 L283.0,146.4 L284.0,145.0 L285.0,143.5 L286.0,142.1 L287.0,140.6 L288.0,139.1 L289.0,137.7 L290.0,136.2 L291.0,134.8 L292.0,133.3 L293.0,131.9 L294.0,130.4 L295.0,128.9 L296.0,127.5 L297.0,126.0 L298.0,124.5 L299.0,123.1 L300.0,121.6 L301.0,120.1 L302.0,118.7 L303.0,117.2 L304.0,115.7 L305.0,114.3 L306.0,112.8 L307.0,111.3 L308.0,109.9 L309.0,108.4 L310.0,106.9 L311.0,105.4 L312.0,103.9 L313.0,102.5 L314.0,101.0 L315.0,99.5 L316.0,98.0 L317.0,96.5 L318.0,95.0 L319.0,93.5 L320.0,92.0 L321.0,90.5 L322.0,89.0 L323.0,87.5 L324.0,86.0 L325.0,84.5 L326.0,83.0 L327.0,81.5 L328.0,80.0 L329.0,78.5 L330.0,77.0 L331.0,75.5 L332.0,74.0 L333.0,72.5 L334.0,71.0 L335.0,69.4 L336.0,67.9 L337.0,66.4 L338.0,64.9 L339.0,63.4 L340.0,61.9 L341.0,60.4 L342.0,58.9 L343.0,57.3 L344.0,55.8 L345.0,54.3 L346.0,52.8 L347.0,51.3 L348.0,49.8 L349.0,48.3 L350.0,46.7 L351.0,45.2 L352.0,43.7 L353.0,42.2" stroke="#ff1414" stroke-width="4.0" fill="none" stroke-linejoin="round"/>
</g>
<clipPath id="cb"><rect x="379" y="35.8" width="250" height="238.5"/></clipPath>
<g clip-path="url(#cb)">
<path d="M379.0,273.2 L380.0,273.2 L381.0,273.1 L382.0,273.1 L383.0,273.1 L384.0,273.0 L385.0,273.0 L386.0,273.0 L387.0,272.9 L388.0,272.9 L389.0,272.9 L390.0,272.9 L391.0,272.8 L392.0,272.8 L393.0,272.8 L394.0,272.7 L395.0,272.7 L396.0,272.7 L397.0,272.6 L398.0,272.6 L399.0,272.5 L400.0,272.5 L401.0,272.5 L402.0,272.4 L403.0,272.4 L404.0,272.4 L405.0,272.3 L406.0,272.3 L407.0,272.2 L408.0,272.2 L409.0,272.1 L410.0,272.1 L411.0,272.0 L412.0,272.0 L413.0,271.9 L414.0,271.8 L415.0,271.8 L416.0,271.7 L417.0,271.6 L418.0,271.5 L419.0,271.5 L420.0,271.4 L421.0,271.3 L422.0,271.2 L423.0,271.1 L424.0,271.0 L425.0,270.9 L426.0,270.8 L427.0,270.7 L428.0,270.6 L429.0,270.5 L430.0,270.4 L431.0,270.3 L432.0,270.2 L433.0,270.0 L434.0,269.9 L435.0,269.8 L436.0,269.7 L437.0,269.5 L438.0,269.4 L439.0,269.2 L440.0,269.1 L441.0,268.9 L442.0,268.8 L443.0,268.6 L444.0,268.5 L445.0,268.3 L446.0,268.2 L447.0,268.0 L448.0,267.9 L449.0,267.7 L450.0,267.5 L451.0,267.3 L452.0,267.1 L453.0,266.9 L454.0,266.7 L455.0,266.5 L456.0,266.3 L457.0,266.0 L458.0,265.8 L459.0,265.5 L460.0,265.2 L461.0,264.9 L462.0,264.6 L463.0,264.2 L464.0,263.9 L465.0,263.5 L466.0,263.0 L467.0,262.6 L468.0,262.1 L469.0,261.6 L470.0,261.1 L471.0,260.6 L472.0,260.0 L473.0,259.5 L474.0,258.9 L475.0,258.4 L476.0,257.8 L477.0,257.3 L478.0,256.8 L479.0,256.3 L480.0,255.8 L481.0,255.3 L482.0,254.8 L483.0,254.3 L484.0,253.8 L485.0,253.2 L486.0,252.7 L487.0,252.2 L488.0,251.6 L489.0,251.1 L490.0,250.5 L491.0,249.9 L492.0,249.4 L493.0,248.8 L494.0,248.2 L495.0,247.7 L496.0,247.1 L497.0,246.4 L498.0,245.6 L499.0,244.8 L500.0,243.9 L501.0,242.9 L502.0,241.9 L503.0,240.8 L504.0,239.8 L505.0,238.7 L506.0,237.5 L507.0,236.3 L508.0,235.1 L509.0,233.9 L510.0,232.6 L511.0,231.2 L512.0,229.8 L513.0,228.4 L514.0,226.9 L515.0,225.3 L516.0,223.7 L517.0,222.0 L518.0,220.3 L519.0,218.6 L520.0,216.8 L521.0,215.1 L522.0,213.3 L523.0,211.5 L524.0,209.7 L525.0,208.0 L526.0,206.2 L527.0,204.5 L528.0,202.8 L529.0,201.1 L530.0,199.4 L531.0,197.6 L532.0,195.9 L533.0,194.2 L534.0,192.5 L535.0,190.8 L536.0,189.0 L537.0,187.4 L538.0,185.7 L539.0,184.0 L540.0,182.3 L541.0,180.7 L542.0,179.0 L543.0,177.3 L544.0,175.7 L545.0,174.0 L546.0,172.4 L547.0,170.7 L548.0,169.1 L549.0,167.4 L550.0,165.8 L551.0,164.1 L552.0,162.5 L553.0,160.9 L554.0,159.3 L555.0,157.7 L556.0,156.1 L557.0,154.5 L558.0,153.0 L559.0,151.5 L560.0,150.0 L561.0,148.5 L562.0,147.0 L563.0,145.5 L564.0,144.1 L565.0,142.6 L566.0,141.2 L567.0,139.7 L568.0,138.3 L569.0,136.9 L570.0,135.5 L571.0,134.2 L572.0,132.8 L573.0,131.5 L574.0,130.2 L575.0,128.9 L576.0,127.7 L577.0,126.4 L578.0,125.2 L579.0,124.0 L580.0,122.8 L581.0,121.6 L582.0,120.5 L583.0,119.3 L584.0,118.2 L585.0,117.0 L586.0,115.9 L587.0,114.8 L588.0,113.7 L589.0,112.6 L590.0,111.5 L591.0,110.4 L592.0,109.3 L593.0,108.2 L594.0,107.1 L595.0,106.0 L596.0,105.0 L597.0,103.9 L598.0,102.8 L599.0,101.7 L600.0,100.7 L601.0,99.6 L602.0,98.5 L603.0,97.5 L604.0,96.4 L605.0,95.3 L606.0,94.3 L607.0,93.2 L608.0,92.2 L609.0,91.1 L610.0,90.0 L611.0,89.0 L612.0,87.9 L613.0,86.9 L614.0,85.8 L615.0,84.8 L616.0,83.7 L617.0,82.7 L618.0,81.6 L619.0,80.6 L620.0,79.5 L621.0,78.5 L622.0,77.4 L623.0,76.3 L624.0,75.3 L625.0,74.2 L626.0,73.2 L627.0,72.1 L628.0,71.1 L629.0,70.0" stroke="#0a0a9a" stroke-width="4.0" fill="none" stroke-linejoin="round"/>
<path d="M379.0,273.1 L380.0,273.1 L381.0,273.1 L382.0,273.0 L383.0,273.0 L384.0,272.9 L385.0,272.9 L386.0,272.9 L387.0,272.8 L388.0,272.8 L389.0,272.8 L390.0,272.7 L391.0,272.7 L392.0,272.6 L393.0,272.6 L394.0,272.6 L395.0,272.5 L396.0,272.5 L397.0,272.5 L398.0,272.4 L399.0,272.4 L400.0,272.3 L401.0,272.3 L402.0,272.2 L403.0,272.2 L404.0,272.1 L405.0,272.1 L406.0,272.1 L407.0,272.0 L408.0,271.9 L409.0,271.9 L410.0,271.8 L411.0,271.8 L412.0,271.7 L413.0,271.6 L414.0,271.6 L415.0,271.5 L416.0,271.4 L417.0,271.3 L418.0,271.2 L419.0,271.2 L420.0,271.1 L421.0,271.0 L422.0,270.9 L423.0,270.8 L424.0,270.7 L425.0,270.6 L426.0,270.5 L427.0,270.3 L428.0,270.2 L429.0,270.1 L430.0,270.0 L431.0,269.9 L432.0,269.7 L433.0,269.6 L434.0,269.5 L435.0,269.3 L436.0,269.2 L437.0,269.0 L438.0,268.9 L439.0,268.7 L440.0,268.6 L441.0,268.4 L442.0,268.3 L443.0,268.1 L444.0,267.9 L445.0,267.8 L446.0,267.6 L447.0,267.4 L448.0,267.2 L449.0,267.1 L450.0,266.9 L451.0,266.7 L452.0,266.5 L453.0,266.3 L454.0,266.0 L455.0,265.8 L456.0,265.6 L457.0,265.3 L458.0,265.0 L459.0,264.8 L460.0,264.5 L461.0,264.1 L462.0,263.8 L463.0,263.4 L464.0,263.1 L465.0,262.6 L466.0,262.2 L467.0,261.7 L468.0,261.3 L469.0,260.8 L470.0,260.3 L471.0,259.7 L472.0,259.2 L473.0,258.6 L474.0,258.1 L475.0,257.5 L476.0,257.0 L477.0,256.4 L478.0,255.9 L479.0,255.4 L480.0,254.9 L481.0,254.4 L482.0,253.9 L483.0,253.3 L484.0,252.8 L485.0,252.3 L486.0,251.8 L487.0,251.2 L488.0,250.7 L489.0,250.1 L490.0,249.6 L491.0,249.0 L492.0,248.4 L493.0,247.8 L494.0,247.3 L495.0,246.7 L496.0,246.1 L497.0,245.4 L498.0,244.6 L499.0,243.8 L500.0,242.9 L501.0,241.9 L502.0,240.9 L503.0,239.8 L504.0,238.7 L505.0,237.6 L506.0,236.4 L507.0,235.2 L508.0,234.0 L509.0,232.7 L510.0,231.4 L511.0,230.1 L512.0,228.7 L513.0,227.2 L514.0,225.7 L515.0,224.2 L516.0,222.5 L517.0,220.9 L518.0,219.2 L519.0,217.4 L520.0,215.7 L521.0,213.9 L522.0,212.1 L523.0,210.4 L524.0,208.6 L525.0,206.9 L526.0,205.1 L527.0,203.4 L528.0,201.7 L529.0,200.0 L530.0,198.3 L531.0,196.6 L532.0,194.9 L533.0,193.1 L534.0,191.4 L535.0,189.7 L536.0,188.0 L537.0,186.4 L538.0,184.7 L539.0,183.0 L540.0,181.3 L541.0,179.7 L542.0,178.0 L543.0,176.4 L544.0,174.8 L545.0,173.1 L546.0,171.5 L547.0,169.8 L548.0,168.2 L549.0,166.5 L550.0,164.9 L551.0,163.3 L552.0,161.7 L553.0,160.1 L554.0,158.5 L555.0,156.9 L556.0,155.3 L557.0,153.8 L558.0,152.2 L559.0,150.7 L560.0,149.2 L561.0,147.8 L562.0,146.3 L563.0,144.9 L564.0,143.4 L565.0,142.0 L566.0,140.6 L567.0,139.1 L568.0,137.7 L569.0,136.3 L570.0,135.0 L571.0,133.6 L572.0,132.3 L573.0,131.0 L574.0,129.7 L575.0,128.4 L576.0,127.2 L577.0,126.0 L578.0,124.8 L579.0,123.6 L580.0,122.4 L581.0,121.2 L582.0,120.0 L583.0,118.9 L584.0,117.7 L585.0,116.6 L586.0,115.5 L587.0,114.4 L588.0,113.3 L589.0,112.2 L590.0,111.1 L591.0,110.0 L592.0,108.9 L593.0,107.8 L594.0,106.7 L595.0,105.7 L596.0,104.6 L597.0,103.5 L598.0,102.5 L599.0,101.4 L600.0,100.3 L601.0,99.3 L602.0,98.2 L603.0,97.2 L604.0,96.1 L605.0,95.0 L606.0,94.0 L607.0,92.9 L608.0,91.9 L609.0,90.8 L610.0,89.8 L611.0,88.7 L612.0,87.7 L613.0,86.7 L614.0,85.6 L615.0,84.6 L616.0,83.5 L617.0,82.5 L618.0,81.5 L619.0,80.4 L620.0,79.4 L621.0,78.3 L622.0,77.3 L623.0,76.3 L624.0,75.2 L625.0,74.2 L626.0,73.1 L627.0,72.1 L628.0,71.0 L629.0,70.0" stroke="#0000f8" stroke-width="4.0" fill="none" stroke-linejoin="round"/>
<path d="M379.0,273.0 L380.0,273.0 L381.0,272.9 L382.0,272.9 L383.0,272.8 L384.0,272.8 L385.0,272.7 L386.0,272.7 L387.0,272.6 L388.0,272.6 L389.0,272.5 L390.0,272.5 L391.0,272.4 L392.0,272.4 L393.0,272.3 L394.0,272.3 L395.0,272.2 L396.0,272.2 L397.0,272.1 L398.0,272.1 L399.0,272.0 L400.0,272.0 L401.0,271.9 L402.0,271.9 L403.0,271.8 L404.0,271.7 L405.0,271.7 L406.0,271.6 L407.0,271.5 L408.0,271.5 L409.0,271.4 L410.0,271.3 L411.0,271.3 L412.0,271.2 L413.0,271.1 L414.0,271.0 L415.0,270.9 L416.0,270.8 L417.0,270.7 L418.0,270.6 L419.0,270.5 L420.0,270.4 L421.0,270.3 L422.0,270.2 L423.0,270.0 L424.0,269.9 L425.0,269.8 L426.0,269.6 L427.0,269.5 L428.0,269.3 L429.0,269.2 L430.0,269.0 L431.0,268.9 L432.0,268.7 L433.0,268.6 L434.0,268.4 L435.0,268.2 L436.0,268.1 L437.0,267.9 L438.0,267.7 L439.0,267.5 L440.0,267.3 L441.0,267.1 L442.0,266.9 L443.0,266.7 L444.0,266.5 L445.0,266.3 L446.0,266.1 L447.0,265.9 L448.0,265.7 L449.0,265.5 L450.0,265.2 L451.0,265.0 L452.0,264.7 L453.0,264.5 L454.0,264.2 L455.0,263.9 L456.0,263.6 L457.0,263.3 L458.0,263.0 L459.0,262.7 L460.0,262.3 L461.0,262.0 L462.0,261.6 L463.0,261.2 L464.0,260.8 L465.0,260.3 L466.0,259.8 L467.0,259.3 L468.0,258.8 L469.0,258.3 L470.0,257.7 L471.0,257.2 L472.0,256.6 L473.0,256.0 L474.0,255.4 L475.0,254.8 L476.0,254.2 L477.0,253.7 L478.0,253.1 L479.0,252.5 L480.0,252.0 L481.0,251.4 L482.0,250.8 L483.0,250.3 L484.0,249.7 L485.0,249.1 L486.0,248.5 L487.0,247.9 L488.0,247.3 L489.0,246.7 L490.0,246.1 L491.0,245.4 L492.0,244.8 L493.0,244.2 L494.0,243.6 L495.0,242.9 L496.0,242.2 L497.0,241.5 L498.0,240.7 L499.0,239.9 L500.0,238.9 L501.0,237.9 L502.0,236.9 L503.0,235.8 L504.0,234.7 L505.0,233.6 L506.0,232.5 L507.0,231.3 L508.0,230.0 L509.0,228.8 L510.0,227.5 L511.0,226.1 L512.0,224.7 L513.0,223.3 L514.0,221.8 L515.0,220.3 L516.0,218.7 L517.0,217.1 L518.0,215.5 L519.0,213.8 L520.0,212.1 L521.0,210.4 L522.0,208.7 L523.0,207.0 L524.0,205.3 L525.0,203.6 L526.0,202.0 L527.0,200.3 L528.0,198.7 L529.0,197.0 L530.0,195.4 L531.0,193.7 L532.0,192.0 L533.0,190.4 L534.0,188.7 L535.0,187.1 L536.0,185.4 L537.0,183.8 L538.0,182.2 L539.0,180.6 L540.0,178.9 L541.0,177.3 L542.0,175.7 L543.0,174.2 L544.0,172.6 L545.0,171.0 L546.0,169.4 L547.0,167.8 L548.0,166.2 L549.0,164.6 L550.0,163.0 L551.0,161.4 L552.0,159.9 L553.0,158.3 L554.0,156.7 L555.0,155.2 L556.0,153.7 L557.0,152.2 L558.0,150.7 L559.0,149.2 L560.0,147.7 L561.0,146.3 L562.0,144.9 L563.0,143.5 L564.0,142.1 L565.0,140.7 L566.0,139.3 L567.0,137.9 L568.0,136.6 L569.0,135.2 L570.0,133.9 L571.0,132.5 L572.0,131.2 L573.0,130.0 L574.0,128.7 L575.0,127.4 L576.0,126.2 L577.0,125.0 L578.0,123.8 L579.0,122.6 L580.0,121.4 L581.0,120.3 L582.0,119.1 L583.0,118.0 L584.0,116.9 L585.0,115.8 L586.0,114.6 L587.0,113.5 L588.0,112.4 L589.0,111.3 L590.0,110.3 L591.0,109.2 L592.0,108.1 L593.0,107.0 L594.0,106.0 L595.0,104.9 L596.0,103.9 L597.0,102.8 L598.0,101.7 L599.0,100.7 L600.0,99.6 L601.0,98.6 L602.0,97.6 L603.0,96.5 L604.0,95.5 L605.0,94.4 L606.0,93.4 L607.0,92.4 L608.0,91.3 L609.0,90.3 L610.0,89.3 L611.0,88.3 L612.0,87.2 L613.0,86.2 L614.0,85.2 L615.0,84.2 L616.0,83.2 L617.0,82.1 L618.0,81.1 L619.0,80.1 L620.0,79.1 L621.0,78.1 L622.0,77.1 L623.0,76.1 L624.0,75.1 L625.0,74.1 L626.0,73.0 L627.0,72.0 L628.0,71.0 L629.0,70.0" stroke="#3592f5" stroke-width="4.0" fill="none" stroke-linejoin="round"/>
<path d="M379.0,272.9 L380.0,272.8 L381.0,272.8 L382.0,272.7 L383.0,272.6 L384.0,272.6 L385.0,272.5 L386.0,272.5 L387.0,272.4 L388.0,272.3 L389.0,272.3 L390.0,272.2 L391.0,272.1 L392.0,272.1 L393.0,272.0 L394.0,271.9 L395.0,271.9 L396.0,271.8 L397.0,271.7 L398.0,271.7 L399.0,271.6 L400.0,271.5 L401.0,271.5 L402.0,271.4 L403.0,271.3 L404.0,271.2 L405.0,271.2 L406.0,271.1 L407.0,271.0 L408.0,270.9 L409.0,270.8 L410.0,270.7 L411.0,270.6 L412.0,270.5 L413.0,270.4 L414.0,270.3 L415.0,270.2 L416.0,270.1 L417.0,269.9 L418.0,269.8 L419.0,269.7 L420.0,269.5 L421.0,269.4 L422.0,269.2 L423.0,269.1 L424.0,268.9 L425.0,268.8 L426.0,268.6 L427.0,268.4 L428.0,268.3 L429.0,268.1 L430.0,267.9 L431.0,267.7 L432.0,267.5 L433.0,267.3 L434.0,267.1 L435.0,266.9 L436.0,266.7 L437.0,266.5 L438.0,266.2 L439.0,266.0 L440.0,265.8 L441.0,265.5 L442.0,265.3 L443.0,265.1 L444.0,264.8 L445.0,264.6 L446.0,264.3 L447.0,264.0 L448.0,263.8 L449.0,263.5 L450.0,263.2 L451.0,262.9 L452.0,262.6 L453.0,262.2 L454.0,261.9 L455.0,261.6 L456.0,261.2 L457.0,260.8 L458.0,260.5 L459.0,260.1 L460.0,259.7 L461.0,259.2 L462.0,258.8 L463.0,258.3 L464.0,257.9 L465.0,257.4 L466.0,256.8 L467.0,256.3 L468.0,255.7 L469.0,255.1 L470.0,254.5 L471.0,253.9 L472.0,253.3 L473.0,252.7 L474.0,252.0 L475.0,251.4 L476.0,250.7 L477.0,250.1 L478.0,249.4 L479.0,248.8 L480.0,248.2 L481.0,247.5 L482.0,246.9 L483.0,246.2 L484.0,245.6 L485.0,244.9 L486.0,244.3 L487.0,243.6 L488.0,242.9 L489.0,242.2 L490.0,241.5 L491.0,240.8 L492.0,240.1 L493.0,239.4 L494.0,238.7 L495.0,237.9 L496.0,237.2 L497.0,236.4 L498.0,235.6 L499.0,234.7 L500.0,233.7 L501.0,232.7 L502.0,231.7 L503.0,230.6 L504.0,229.5 L505.0,228.4 L506.0,227.2 L507.0,226.1 L508.0,224.9 L509.0,223.6 L510.0,222.4 L511.0,221.1 L512.0,219.7 L513.0,218.4 L514.0,216.9 L515.0,215.5 L516.0,214.0 L517.0,212.5 L518.0,210.9 L519.0,209.3 L520.0,207.7 L521.0,206.1 L522.0,204.5 L523.0,202.9 L524.0,201.3 L525.0,199.7 L526.0,198.2 L527.0,196.6 L528.0,195.0 L529.0,193.4 L530.0,191.9 L531.0,190.3 L532.0,188.7 L533.0,187.2 L534.0,185.6 L535.0,184.0 L536.0,182.4 L537.0,180.9 L538.0,179.3 L539.0,177.8 L540.0,176.2 L541.0,174.7 L542.0,173.2 L543.0,171.7 L544.0,170.1 L545.0,168.6 L546.0,167.1 L547.0,165.5 L548.0,164.0 L549.0,162.5 L550.0,161.0 L551.0,159.4 L552.0,157.9 L553.0,156.4 L554.0,154.9 L555.0,153.5 L556.0,152.0 L557.0,150.5 L558.0,149.1 L559.0,147.6 L560.0,146.2 L561.0,144.8 L562.0,143.5 L563.0,142.1 L564.0,140.8 L565.0,139.4 L566.0,138.1 L567.0,136.7 L568.0,135.4 L569.0,134.0 L570.0,132.7 L571.0,131.4 L572.0,130.2 L573.0,128.9 L574.0,127.7 L575.0,126.5 L576.0,125.2 L577.0,124.0 L578.0,122.9 L579.0,121.7 L580.0,120.5 L581.0,119.4 L582.0,118.3 L583.0,117.1 L584.0,116.0 L585.0,114.9 L586.0,113.8 L587.0,112.7 L588.0,111.6 L589.0,110.5 L590.0,109.5 L591.0,108.4 L592.0,107.3 L593.0,106.3 L594.0,105.2 L595.0,104.2 L596.0,103.1 L597.0,102.1 L598.0,101.0 L599.0,100.0 L600.0,99.0 L601.0,97.9 L602.0,96.9 L603.0,95.9 L604.0,94.9 L605.0,93.8 L606.0,92.8 L607.0,91.8 L608.0,90.8 L609.0,89.8 L610.0,88.8 L611.0,87.8 L612.0,86.8 L613.0,85.8 L614.0,84.8 L615.0,83.8 L616.0,82.8 L617.0,81.8 L618.0,80.8 L619.0,79.8 L620.0,78.8 L621.0,77.9 L622.0,76.9 L623.0,75.9 L624.0,74.9 L625.0,73.9 L626.0,72.9 L627.0,72.0 L628.0,71.0 L629.0,70.0" stroke="#58cdfa" stroke-width="4.0" fill="none" stroke-linejoin="round"/>
<path d="M379.0,272.7 L380.0,272.6 L381.0,272.5 L382.0,272.4 L383.0,272.3 L384.0,272.3 L385.0,272.2 L386.0,272.1 L387.0,272.0 L388.0,271.9 L389.0,271.8 L390.0,271.7 L391.0,271.6 L392.0,271.5 L393.0,271.4 L394.0,271.4 L395.0,271.3 L396.0,271.2 L397.0,271.1 L398.0,271.0 L399.0,270.9 L400.0,270.8 L401.0,270.7 L402.0,270.6 L403.0,270.5 L404.0,270.4 L405.0,270.2 L406.0,270.1 L407.0,270.0 L408.0,269.9 L409.0,269.8 L410.0,269.6 L411.0,269.5 L412.0,269.4 L413.0,269.2 L414.0,269.1 L415.0,268.9 L416.0,268.7 L417.0,268.6 L418.0,268.4 L419.0,268.2 L420.0,268.0 L421.0,267.8 L422.0,267.6 L423.0,267.4 L424.0,267.2 L425.0,267.0 L426.0,266.7 L427.0,266.5 L428.0,266.2 L429.0,266.0 L430.0,265.7 L431.0,265.5 L432.0,265.2 L433.0,264.9 L434.0,264.6 L435.0,264.3 L436.0,264.0 L437.0,263.7 L438.0,263.4 L439.0,263.1 L440.0,262.8 L441.0,262.5 L442.0,262.1 L443.0,261.8 L444.0,261.4 L445.0,261.1 L446.0,260.7 L447.0,260.3 L448.0,259.9 L449.0,259.5 L450.0,259.1 L451.0,258.7 L452.0,258.3 L453.0,257.8 L454.0,257.3 L455.0,256.9 L456.0,256.4 L457.0,255.9 L458.0,255.4 L459.0,254.9 L460.0,254.3 L461.0,253.8 L462.0,253.2 L463.0,252.6 L464.0,252.1 L465.0,251.4 L466.0,250.8 L467.0,250.2 L468.0,249.5 L469.0,248.8 L470.0,248.1 L471.0,247.4 L472.0,246.7 L473.0,246.0 L474.0,245.2 L475.0,244.5 L476.0,243.7 L477.0,242.9 L478.0,242.2 L479.0,241.4 L480.0,240.6 L481.0,239.8 L482.0,239.0 L483.0,238.2 L484.0,237.4 L485.0,236.6 L486.0,235.8 L487.0,234.9 L488.0,234.1 L489.0,233.2 L490.0,232.4 L491.0,231.5 L492.0,230.6 L493.0,229.8 L494.0,228.9 L495.0,228.0 L496.0,227.1 L497.0,226.2 L498.0,225.2 L499.0,224.2 L500.0,223.2 L501.0,222.1 L502.0,221.1 L503.0,220.0 L504.0,218.9 L505.0,217.8 L506.0,216.7 L507.0,215.5 L508.0,214.3 L509.0,213.1 L510.0,211.9 L511.0,210.6 L512.0,209.4 L513.0,208.1 L514.0,206.7 L515.0,205.4 L516.0,204.0 L517.0,202.7 L518.0,201.3 L519.0,199.9 L520.0,198.5 L521.0,197.0 L522.0,195.6 L523.0,194.2 L524.0,192.8 L525.0,191.3 L526.0,189.9 L527.0,188.5 L528.0,187.1 L529.0,185.7 L530.0,184.3 L531.0,182.8 L532.0,181.4 L533.0,180.0 L534.0,178.6 L535.0,177.2 L536.0,175.7 L537.0,174.3 L538.0,172.9 L539.0,171.5 L540.0,170.1 L541.0,168.7 L542.0,167.3 L543.0,165.9 L544.0,164.5 L545.0,163.1 L546.0,161.7 L547.0,160.3 L548.0,158.9 L549.0,157.5 L550.0,156.1 L551.0,154.7 L552.0,153.3 L553.0,152.0 L554.0,150.6 L555.0,149.2 L556.0,147.8 L557.0,146.5 L558.0,145.1 L559.0,143.8 L560.0,142.4 L561.0,141.2 L562.0,139.9 L563.0,138.6 L564.0,137.3 L565.0,136.0 L566.0,134.8 L567.0,133.5 L568.0,132.2 L569.0,130.9 L570.0,129.7 L571.0,128.4 L572.0,127.2 L573.0,126.0 L574.0,124.8 L575.0,123.6 L576.0,122.4 L577.0,121.2 L578.0,120.0 L579.0,118.8 L580.0,117.7 L581.0,116.5 L582.0,115.4 L583.0,114.3 L584.0,113.1 L585.0,112.0 L586.0,110.9 L587.0,109.8 L588.0,108.7 L589.0,107.6 L590.0,106.5 L591.0,105.4 L592.0,104.4 L593.0,103.3 L594.0,102.2 L595.0,101.1 L596.0,100.1 L597.0,99.0 L598.0,98.0 L599.0,96.9 L600.0,95.9 L601.0,94.8 L602.0,93.8 L603.0,92.7 L604.0,91.7 L605.0,90.7 L606.0,89.6 L607.0,88.6 L608.0,87.6 L609.0,86.6 L610.0,85.5 L611.0,84.5 L612.0,83.5 L613.0,82.5 L614.0,81.5 L615.0,80.5 L616.0,79.5 L617.0,78.5 L618.0,77.5 L619.0,76.5 L620.0,75.5 L621.0,74.5 L622.0,73.5 L623.0,72.5 L624.0,71.5 L625.0,70.6 L626.0,69.6 L627.0,68.6 L628.0,67.6 L629.0,66.6" stroke="#0ac80a" stroke-width="4.0" fill="none" stroke-linejoin="round"/>
<path d="M379.0,272.7 L380.0,272.6 L381.0,272.5 L382.0,272.4 L383.0,272.3 L384.0,272.2 L385.0,272.1 L386.0,272.0 L387.0,271.9 L388.0,271.8 L389.0,271.7 L390.0,271.6 L391.0,271.5 L392.0,271.4 L393.0,271.3 L394.0,271.2 L395.0,271.1 L396.0,271.0 L397.0,270.9 L398.0,270.8 L399.0,270.7 L400.0,270.6 L401.0,270.5 L402.0,270.4 L403.0,270.3 L404.0,270.2 L405.0,270.0 L406.0,269.9 L407.0,269.8 L408.0,269.7 L409.0,269.5 L410.0,269.4 L411.0,269.3 L412.0,269.1 L413.0,269.0 L414.0,268.8 L415.0,268.6 L416.0,268.5 L417.0,268.3 L418.0,268.1 L419.0,267.9 L420.0,267.7 L421.0,267.5 L422.0,267.3 L423.0,267.0 L424.0,266.8 L425.0,266.6 L426.0,266.3 L427.0,266.1 L428.0,265.8 L429.0,265.6 L430.0,265.3 L431.0,265.0 L432.0,264.7 L433.0,264.4 L434.0,264.1 L435.0,263.8 L436.0,263.5 L437.0,263.2 L438.0,262.9 L439.0,262.5 L440.0,262.2 L441.0,261.9 L442.0,261.5 L443.0,261.2 L444.0,260.8 L445.0,260.4 L446.0,260.0 L447.0,259.6 L448.0,259.2 L449.0,258.8 L450.0,258.4 L451.0,257.9 L452.0,257.5 L453.0,257.0 L454.0,256.5 L455.0,256.0 L456.0,255.5 L457.0,254.9 L458.0,254.4 L459.0,253.8 L460.0,253.3 L461.0,252.7 L462.0,252.1 L463.0,251.5 L464.0,250.9 L465.0,250.3 L466.0,249.6 L467.0,249.0 L468.0,248.3 L469.0,247.6 L470.0,246.9 L471.0,246.1 L472.0,245.4 L473.0,244.6 L474.0,243.8 L475.0,243.1 L476.0,242.3 L477.0,241.5 L478.0,240.7 L479.0,239.9 L480.0,239.0 L481.0,238.2 L482.0,237.4 L483.0,236.5 L484.0,235.7 L485.0,234.8 L486.0,234.0 L487.0,233.1 L488.0,232.2 L489.0,231.3 L490.0,230.4 L491.0,229.5 L492.0,228.6 L493.0,227.7 L494.0,226.8 L495.0,225.9 L496.0,224.9 L497.0,224.0 L498.0,223.0 L499.0,221.9 L500.0,220.9 L501.0,219.8 L502.0,218.7 L503.0,217.6 L504.0,216.5 L505.0,215.4 L506.0,214.2 L507.0,213.0 L508.0,211.8 L509.0,210.6 L510.0,209.3 L511.0,208.1 L512.0,206.8 L513.0,205.5 L514.0,204.2 L515.0,202.8 L516.0,201.5 L517.0,200.1 L518.0,198.7 L519.0,197.3 L520.0,195.9 L521.0,194.6 L522.0,193.2 L523.0,191.8 L524.0,190.4 L525.0,189.0 L526.0,187.6 L527.0,186.2 L528.0,184.8 L529.0,183.4 L530.0,182.0 L531.0,180.6 L532.0,179.2 L533.0,177.8 L534.0,176.4 L535.0,175.0 L536.0,173.6 L537.0,172.2 L538.0,170.8 L539.0,169.5 L540.0,168.1 L541.0,166.7 L542.0,165.3 L543.0,164.0 L544.0,162.6 L545.0,161.2 L546.0,159.8 L547.0,158.5 L548.0,157.1 L549.0,155.7 L550.0,154.4 L551.0,153.0 L552.0,151.6 L553.0,150.3 L554.0,148.9 L555.0,147.6 L556.0,146.2 L557.0,144.9 L558.0,143.6 L559.0,142.3 L560.0,140.9 L561.0,139.7 L562.0,138.4 L563.0,137.2 L564.0,136.0 L565.0,134.7 L566.0,133.5 L567.0,132.2 L568.0,131.0 L569.0,129.7 L570.0,128.5 L571.0,127.3 L572.0,126.0 L573.0,124.8 L574.0,123.6 L575.0,122.4 L576.0,121.2 L577.0,120.1 L578.0,118.9 L579.0,117.7 L580.0,116.6 L581.0,115.4 L582.0,114.3 L583.0,113.2 L584.0,112.0 L585.0,110.9 L586.0,109.8 L587.0,108.7 L588.0,107.6 L589.0,106.5 L590.0,105.4 L591.0,104.3 L592.0,103.2 L593.0,102.2 L594.0,101.1 L595.0,100.0 L596.0,99.0 L597.0,97.9 L598.0,96.8 L599.0,95.8 L600.0,94.7 L601.0,93.7 L602.0,92.6 L603.0,91.6 L604.0,90.5 L605.0,89.5 L606.0,88.5 L607.0,87.4 L608.0,86.4 L609.0,85.4 L610.0,84.4 L611.0,83.4 L612.0,82.3 L613.0,81.3 L614.0,80.3 L615.0,79.3 L616.0,78.3 L617.0,77.3 L618.0,76.3 L619.0,75.3 L620.0,74.3 L621.0,73.3 L622.0,72.4 L623.0,71.4 L624.0,70.4 L625.0,69.4 L626.0,68.4 L627.0,67.5 L628.0,66.5 L629.0,65.5" stroke="#14e614" stroke-width="4.0" fill="none" stroke-linejoin="round"/>
<path d="M379.0,272.5 L380.0,272.4 L381.0,272.3 L382.0,272.1 L383.0,272.0 L384.0,271.9 L385.0,271.8 L386.0,271.7 L387.0,271.6 L388.0,271.4 L389.0,271.3 L390.0,271.2 L391.0,271.1 L392.0,271.0 L393.0,270.8 L394.0,270.7 L395.0,270.6 L396.0,270.5 L397.0,270.3 L398.0,270.2 L399.0,270.1 L400.0,269.9 L401.0,269.8 L402.0,269.7 L403.0,269.5 L404.0,269.4 L405.0,269.2 L406.0,269.1 L407.0,268.9 L408.0,268.8 L409.0,268.6 L410.0,268.5 L411.0,268.3 L412.0,268.1 L413.0,267.9 L414.0,267.7 L415.0,267.5 L416.0,267.3 L417.0,267.0 L418.0,266.8 L419.0,266.5 L420.0,266.3 L421.0,266.0 L422.0,265.8 L423.0,265.5 L424.0,265.2 L425.0,264.9 L426.0,264.6 L427.0,264.3 L428.0,263.9 L429.0,263.6 L430.0,263.3 L431.0,262.9 L432.0,262.6 L433.0,262.2 L434.0,261.8 L435.0,261.4 L436.0,261.0 L437.0,260.6 L438.0,260.2 L439.0,259.8 L440.0,259.4 L441.0,258.9 L442.0,258.5 L443.0,258.0 L444.0,257.6 L445.0,257.1 L446.0,256.6 L447.0,256.1 L448.0,255.5 L449.0,255.0 L450.0,254.4 L451.0,253.8 L452.0,253.3 L453.0,252.6 L454.0,252.0 L455.0,251.4 L456.0,250.7 L457.0,250.0 L458.0,249.4 L459.0,248.7 L460.0,248.0 L461.0,247.3 L462.0,246.6 L463.0,245.8 L464.0,245.1 L465.0,244.3 L466.0,243.6 L467.0,242.8 L468.0,242.0 L469.0,241.2 L470.0,240.4 L471.0,239.5 L472.0,238.6 L473.0,237.8 L474.0,236.9 L475.0,235.9 L476.0,235.0 L477.0,234.1 L478.0,233.1 L479.0,232.1 L480.0,231.1 L481.0,230.1 L482.0,229.1 L483.0,228.1 L484.0,227.1 L485.0,226.0 L486.0,225.0 L487.0,223.9 L488.0,222.9 L489.0,221.8 L490.0,220.7 L491.0,219.6 L492.0,218.5 L493.0,217.4 L494.0,216.3 L495.0,215.1 L496.0,214.0 L497.0,212.8 L498.0,211.7 L499.0,210.5 L500.0,209.4 L501.0,208.3 L502.0,207.3 L503.0,206.2 L504.0,205.1 L505.0,204.0 L506.0,202.9 L507.0,201.8 L508.0,200.6 L509.0,199.5 L510.0,198.3 L511.0,197.1 L512.0,196.0 L513.0,194.8 L514.0,193.6 L515.0,192.4 L516.0,191.2 L517.0,190.1 L518.0,188.9 L519.0,187.7 L520.0,186.5 L521.0,185.4 L522.0,184.2 L523.0,183.0 L524.0,181.8 L525.0,180.6 L526.0,179.5 L527.0,178.3 L528.0,177.1 L529.0,175.9 L530.0,174.6 L531.0,173.4 L532.0,172.2 L533.0,171.0 L534.0,169.8 L535.0,168.6 L536.0,167.3 L537.0,166.1 L538.0,164.9 L539.0,163.7 L540.0,162.5 L541.0,161.2 L542.0,160.0 L543.0,158.8 L544.0,157.6 L545.0,156.3 L546.0,155.1 L547.0,153.9 L548.0,152.6 L549.0,151.4 L550.0,150.2 L551.0,149.0 L552.0,147.7 L553.0,146.5 L554.0,145.3 L555.0,144.1 L556.0,142.8 L557.0,141.6 L558.0,140.4 L559.0,139.2 L560.0,137.9 L561.0,136.7 L562.0,135.5 L563.0,134.3 L564.0,133.1 L565.0,131.9 L566.0,130.7 L567.0,129.4 L568.0,128.2 L569.0,127.0 L570.0,125.8 L571.0,124.6 L572.0,123.4 L573.0,122.2 L574.0,121.0 L575.0,119.8 L576.0,118.6 L577.0,117.4 L578.0,116.2 L579.0,115.0 L580.0,113.8 L581.0,112.7 L582.0,111.5 L583.0,110.3 L584.0,109.1 L585.0,108.0 L586.0,106.8 L587.0,105.7 L588.0,104.5 L589.0,103.4 L590.0,102.3 L591.0,101.1 L592.0,100.0 L593.0,98.9 L594.0,97.7 L595.0,96.6 L596.0,95.5 L597.0,94.4 L598.0,93.2 L599.0,92.1 L600.0,91.0 L601.0,89.9 L602.0,88.8 L603.0,87.7 L604.0,86.6 L605.0,85.5 L606.0,84.4 L607.0,83.3 L608.0,82.2 L609.0,81.1 L610.0,80.1 L611.0,79.0 L612.0,77.9 L613.0,76.8 L614.0,75.7 L615.0,74.7 L616.0,73.6 L617.0,72.5 L618.0,71.5 L619.0,70.4 L620.0,69.3 L621.0,68.3 L622.0,67.2 L623.0,66.2 L624.0,65.1 L625.0,64.1 L626.0,63.0 L627.0,62.0 L628.0,60.9 L629.0,59.9" stroke="#e8e400" stroke-width="4.0" fill="none" stroke-linejoin="round"/>
<path d="M379.0,272.5 L380.0,272.4 L381.0,272.2 L382.0,272.1 L383.0,272.0 L384.0,271.9 L385.0,271.8 L386.0,271.6 L387.0,271.5 L388.0,271.4 L389.0,271.3 L390.0,271.2 L391.0,271.1 L392.0,270.9 L393.0,270.8 L394.0,270.7 L395.0,270.6 L396.0,270.4 L397.0,270.3 L398.0,270.2 L399.0,270.0 L400.0,269.9 L401.0,269.8 L402.0,269.6 L403.0,269.5 L404.0,269.4 L405.0,269.2 L406.0,269.1 L407.0,268.9 L408.0,268.7 L409.0,268.6 L410.0,268.4 L411.0,268.2 L412.0,268.1 L413.0,267.9 L414.0,267.7 L415.0,267.5 L416.0,267.2 L417.0,267.0 L418.0,266.8 L419.0,266.5 L420.0,266.3 L421.0,266.0 L422.0,265.8 L423.0,265.5 L424.0,265.2 L425.0,264.9 L426.0,264.6 L427.0,264.3 L428.0,263.9 L429.0,263.6 L430.0,263.3 L431.0,262.9 L432.0,262.6 L433.0,262.2 L434.0,261.8 L435.0,261.4 L436.0,261.1 L437.0,260.7 L438.0,260.3 L439.0,259.8 L440.0,259.4 L441.0,259.0 L442.0,258.6 L443.0,258.1 L444.0,257.7 L445.0,257.2 L446.0,256.7 L447.0,256.2 L448.0,255.7 L449.0,255.1 L450.0,254.6 L451.0,254.0 L452.0,253.4 L453.0,252.8 L454.0,252.2 L455.0,251.5 L456.0,250.9 L457.0,250.2 L458.0,249.6 L459.0,248.9 L460.0,248.2 L461.0,247.5 L462.0,246.8 L463.0,246.1 L464.0,245.3 L465.0,244.6 L466.0,243.8 L467.0,243.0 L468.0,242.3 L469.0,241.4 L470.0,240.6 L471.0,239.8 L472.0,238.9 L473.0,238.1 L474.0,237.2 L475.0,236.3 L476.0,235.3 L477.0,234.4 L478.0,233.5 L479.0,232.5 L480.0,231.5 L481.0,230.5 L482.0,229.5 L483.0,228.5 L484.0,227.5 L485.0,226.5 L486.0,225.4 L487.0,224.4 L488.0,223.3 L489.0,222.3 L490.0,221.2 L491.0,220.1 L492.0,219.0 L493.0,217.9 L494.0,216.8 L495.0,215.7 L496.0,214.6 L497.0,213.5 L498.0,212.3 L499.0,211.2 L500.0,210.0 L501.0,208.9 L502.0,207.8 L503.0,206.7 L504.0,205.5 L505.0,204.3 L506.0,203.2 L507.0,202.0 L508.0,200.7 L509.0,199.5 L510.0,198.3 L511.0,197.1 L512.0,195.8 L513.0,194.6 L514.0,193.3 L515.0,192.1 L516.0,190.8 L517.0,189.6 L518.0,188.4 L519.0,187.1 L520.0,185.9 L521.0,184.7 L522.0,183.5 L523.0,182.2 L524.0,181.0 L525.0,179.8 L526.0,178.5 L527.0,177.3 L528.0,176.1 L529.0,174.8 L530.0,173.6 L531.0,172.3 L532.0,171.1 L533.0,169.8 L534.0,168.6 L535.0,167.3 L536.0,166.1 L537.0,164.8 L538.0,163.6 L539.0,162.4 L540.0,161.1 L541.0,159.9 L542.0,158.6 L543.0,157.4 L544.0,156.1 L545.0,154.9 L546.0,153.7 L547.0,152.4 L548.0,151.2 L549.0,149.9 L550.0,148.7 L551.0,147.5 L552.0,146.2 L553.0,145.0 L554.0,143.8 L555.0,142.6 L556.0,141.3 L557.0,140.1 L558.0,138.9 L559.0,137.7 L560.0,136.4 L561.0,135.2 L562.0,134.0 L563.0,132.8 L564.0,131.6 L565.0,130.3 L566.0,129.1 L567.0,127.9 L568.0,126.7 L569.0,125.4 L570.0,124.2 L571.0,123.0 L572.0,121.8 L573.0,120.5 L574.0,119.3 L575.0,118.1 L576.0,116.9 L577.0,115.6 L578.0,114.4 L579.0,113.2 L580.0,112.0 L581.0,110.8 L582.0,109.6 L583.0,108.3 L584.0,107.1 L585.0,105.9 L586.0,104.7 L587.0,103.5 L588.0,102.3 L589.0,101.1 L590.0,99.9 L591.0,98.7 L592.0,97.5 L593.0,96.3 L594.0,95.1 L595.0,93.9 L596.0,92.7 L597.0,91.6 L598.0,90.4 L599.0,89.2 L600.0,88.0 L601.0,86.8 L602.0,85.6 L603.0,84.5 L604.0,83.3 L605.0,82.1 L606.0,80.9 L607.0,79.7 L608.0,78.6 L609.0,77.4 L610.0,76.2 L611.0,75.1 L612.0,73.9 L613.0,72.7 L614.0,71.6 L615.0,70.4 L616.0,69.2 L617.0,68.1 L618.0,66.9 L619.0,65.8 L620.0,64.6 L621.0,63.5 L622.0,62.3 L623.0,61.1 L624.0,60.0 L625.0,58.8 L626.0,57.7 L627.0,56.5 L628.0,55.4 L629.0,54.2" stroke="#ff8000" stroke-width="4.0" fill="none" stroke-linejoin="round"/>
<path d="M379.0,272.5 L380.0,272.4 L381.0,272.2 L382.0,272.1 L383.0,272.0 L384.0,271.9 L385.0,271.8 L386.0,271.6 L387.0,271.5 L388.0,271.4 L389.0,271.3 L390.0,271.2 L391.0,271.1 L392.0,270.9 L393.0,270.8 L394.0,270.7 L395.0,270.6 L396.0,270.4 L397.0,270.3 L398.0,270.2 L399.0,270.1 L400.0,269.9 L401.0,269.8 L402.0,269.7 L403.0,269.5 L404.0,269.4 L405.0,269.2 L406.0,269.1 L407.0,268.9 L408.0,268.8 L409.0,268.6 L410.0,268.5 L411.0,268.3 L412.0,268.1 L413.0,267.9 L414.0,267.7 L415.0,267.5 L416.0,267.3 L417.0,267.1 L418.0,266.8 L419.0,266.6 L420.0,266.3 L421.0,266.1 L422.0,265.8 L423.0,265.5 L424.0,265.3 L425.0,265.0 L426.0,264.7 L427.0,264.3 L428.0,264.0 L429.0,263.7 L430.0,263.4 L431.0,263.0 L432.0,262.7 L433.0,262.3 L434.0,262.0 L435.0,261.6 L436.0,261.2 L437.0,260.8 L438.0,260.4 L439.0,260.0 L440.0,259.6 L441.0,259.2 L442.0,258.7 L443.0,258.3 L444.0,257.8 L445.0,257.4 L446.0,256.9 L447.0,256.4 L448.0,255.9 L449.0,255.4 L450.0,254.8 L451.0,254.2 L452.0,253.7 L453.0,253.1 L454.0,252.5 L455.0,251.8 L456.0,251.2 L457.0,250.6 L458.0,249.9 L459.0,249.2 L460.0,248.6 L461.0,247.9 L462.0,247.2 L463.0,246.5 L464.0,245.7 L465.0,245.0 L466.0,244.3 L467.0,243.5 L468.0,242.7 L469.0,241.9 L470.0,241.1 L471.0,240.3 L472.0,239.4 L473.0,238.6 L474.0,237.7 L475.0,236.8 L476.0,235.9 L477.0,235.0 L478.0,234.0 L479.0,233.1 L480.0,232.1 L481.0,231.2 L482.0,230.2 L483.0,229.2 L484.0,228.2 L485.0,227.2 L486.0,226.2 L487.0,225.1 L488.0,224.1 L489.0,223.1 L490.0,222.0 L491.0,220.9 L492.0,219.9 L493.0,218.8 L494.0,217.7 L495.0,216.6 L496.0,215.5 L497.0,214.4 L498.0,213.3 L499.0,212.1 L500.0,211.0 L501.0,209.8 L502.0,208.6 L503.0,207.4 L504.0,206.2 L505.0,205.0 L506.0,203.7 L507.0,202.5 L508.0,201.2 L509.0,199.9 L510.0,198.6 L511.0,197.3 L512.0,196.0 L513.0,194.6 L514.0,193.3 L515.0,192.0 L516.0,190.7 L517.0,189.4 L518.0,188.1 L519.0,186.8 L520.0,185.5 L521.0,184.2 L522.0,182.9 L523.0,181.7 L524.0,180.4 L525.0,179.1 L526.0,177.8 L527.0,176.5 L528.0,175.2 L529.0,173.9 L530.0,172.6 L531.0,171.4 L532.0,170.1 L533.0,168.8 L534.0,167.5 L535.0,166.2 L536.0,164.9 L537.0,163.7 L538.0,162.4 L539.0,161.1 L540.0,159.8 L541.0,158.6 L542.0,157.3 L543.0,156.0 L544.0,154.8 L545.0,153.5 L546.0,152.2 L547.0,151.0 L548.0,149.7 L549.0,148.5 L550.0,147.3 L551.0,146.0 L552.0,144.8 L553.0,143.5 L554.0,142.3 L555.0,141.1 L556.0,139.8 L557.0,138.6 L558.0,137.4 L559.0,136.2 L560.0,134.9 L561.0,133.7 L562.0,132.5 L563.0,131.2 L564.0,130.0 L565.0,128.7 L566.0,127.5 L567.0,126.3 L568.0,125.0 L569.0,123.8 L570.0,122.5 L571.0,121.3 L572.0,120.0 L573.0,118.8 L574.0,117.5 L575.0,116.3 L576.0,115.0 L577.0,113.7 L578.0,112.5 L579.0,111.2 L580.0,109.9 L581.0,108.7 L582.0,107.4 L583.0,106.1 L584.0,104.9 L585.0,103.6 L586.0,102.3 L587.0,101.1 L588.0,99.8 L589.0,98.5 L590.0,97.2 L591.0,96.0 L592.0,94.7 L593.0,93.4 L594.0,92.2 L595.0,90.9 L596.0,89.6 L597.0,88.3 L598.0,87.1 L599.0,85.8 L600.0,84.5 L601.0,83.2 L602.0,82.0 L603.0,80.7 L604.0,79.4 L605.0,78.1 L606.0,76.9 L607.0,75.6 L608.0,74.3 L609.0,73.0 L610.0,71.8 L611.0,70.5 L612.0,69.2 L613.0,67.9 L614.0,66.6 L615.0,65.4 L616.0,64.1 L617.0,62.8 L618.0,61.5 L619.0,60.3 L620.0,59.0 L621.0,57.7 L622.0,56.4 L623.0,55.2 L624.0,53.9 L625.0,52.6 L626.0,51.3 L627.0,50.1 L628.0,48.8 L629.0,47.5" stroke="#ff1414" stroke-width="4.0" fill="none" stroke-linejoin="round"/>
</g>
<g clip-path="url(#ca)" stroke="#000" stroke-width="1.8">
<line x1="195.0" y1="274.3" x2="353" y2="45"/>
<line x1="247.9" y1="274.3" x2="359.9" y2="35"/>
</g>
<g clip-path="url(#cb)" stroke="#000" stroke-width="1.8">
<line x1="450.2" y1="273.5" x2="640.3" y2="35"/>
<line x1="486.1" y1="273.5" x2="628.7" y2="35"/>
</g>
<rect x="103" y="35.8" width="250" height="238.5" fill="none" stroke="#000" stroke-width="1.6"/>
<path d="M138.7,274.3V264.3 M174.4,274.3V269.3 M210.1,274.3V264.3 M245.9,274.3V269.3 M281.6,274.3V264.3 M317.3,274.3V269.3 M103,250.5H108 M103,226.6H113 M103,202.8H108 M103,178.9H113 M103,155.1H108 M103,131.2H113 M103,107.4H108 M103,83.5H113 M103,59.7H108 M138.7,35.8V37.8 M174.4,35.8V37.8 M210.1,35.8V37.8 M245.9,35.8V37.8 M281.6,35.8V37.8 M317.3,35.8V37.8 M353,250.5H351 M353,226.6H351 M353,202.8H351 M353,178.9H351 M353,155.1H351 M353,131.2H351 M353,107.4H351 M353,83.5H351 M353,59.7H351" stroke="#000" stroke-width="1.5" fill="none"/>
<text x="138.7" y="304.5" font-size="26" text-anchor="middle" stroke="#000" stroke-width="0.4">3.5</text>
<text x="210.1" y="304.5" font-size="26" text-anchor="middle" stroke="#000" stroke-width="0.4">4.0</text>
<text x="281.6" y="304.5" font-size="26" text-anchor="middle" stroke="#000" stroke-width="0.4">4.5</text>
<text x="353.0" y="304.5" font-size="26" text-anchor="middle" stroke="#000" stroke-width="0.4">5.0</text>
<rect x="379" y="35.8" width="250" height="238.5" fill="none" stroke="#000" stroke-width="1.6"/>
<path d="M414.7,274.3V264.3 M450.4,274.3V269.3 M486.1,274.3V264.3 M521.9,274.3V269.3 M557.6,274.3V264.3 M593.3,274.3V269.3 M379,250.5H384 M379,226.6H389 M379,202.8H384 M379,178.9H389 M379,155.1H384 M379,131.2H389 M379,107.4H384 M379,83.5H389 M379,59.7H384 M414.7,35.8V37.8 M450.4,35.8V37.8 M486.1,35.8V37.8 M521.9,35.8V37.8 M557.6,35.8V37.8 M593.3,35.8V37.8 M629,250.5H627 M629,226.6H627 M629,202.8H627 M629,178.9H627 M629,155.1H627 M629,131.2H627 M629,107.4H627 M629,83.5H627 M629,59.7H627" stroke="#000" stroke-width="1.5" fill="none"/>
<text x="414.7" y="304.5" font-size="26" text-anchor="middle" stroke="#000" stroke-width="0.4">3.5</text>
<text x="486.1" y="304.5" font-size="26" text-anchor="middle" stroke="#000" stroke-width="0.4">4.0</text>
<text x="557.6" y="304.5" font-size="26" text-anchor="middle" stroke="#000" stroke-width="0.4">4.5</text>
<text x="629.0" y="304.5" font-size="26" text-anchor="middle" stroke="#000" stroke-width="0.4">5.0</text>
<text x="92.3" y="282.1" font-size="26" text-anchor="end" stroke="#000" stroke-width="0.4">0</text>
<text x="92.3" y="234.4" font-size="26" text-anchor="end" stroke="#000" stroke-width="0.4">2</text>
<text x="92.3" y="186.7" font-size="26" text-anchor="end" stroke="#000" stroke-width="0.4">4</text>
<text x="92.3" y="139.0" font-size="26" text-anchor="end" stroke="#000" stroke-width="0.4">6</text>
<text x="92.3" y="91.3" font-size="26" text-anchor="end" stroke="#000" stroke-width="0.4">8</text>
<text x="92.3" y="43.6" font-size="26" text-anchor="end" stroke="#000" stroke-width="0.4">10</text>
<text transform="translate(25.8,154) rotate(-90)" font-size="28.5" text-anchor="middle" stroke="#000" stroke-width="0.4"><tspan font-style="italic">α</tspan><tspan font-size="17" dy="-13.5">2</tspan><tspan dy="13.5"> (10</tspan><tspan font-size="17" dy="-13.5">10</tspan><tspan dy="13.5"> cm</tspan><tspan font-size="17" dy="-13.5">-2</tspan><tspan dy="13.5">)</tspan></text>
<text x="367.2" y="350" font-size="28.1" text-anchor="middle" stroke="#000" stroke-width="0.4">Photon energy (eV)</text>
<text x="123.5" y="71" font-size="28" font-weight="bold" stroke="#000" stroke-width="0.4">(a)</text>
<text x="165" y="70.3" font-size="24" fill="#0c0cee" stroke="#0c0cee" stroke-width="0.4">Vacuum</text>
<text x="165" y="99" font-size="23.5" fill="#0c0cee" stroke="#0c0cee" stroke-width="0.4">-annealed</text>
<text x="399.5" y="71" font-size="28" font-weight="bold" stroke="#000" stroke-width="0.4">(b)</text>
<text x="440.5" y="70.4" font-size="24" fill="#118a11" stroke="#118a11" stroke-width="0.4">O<tspan font-size="13" dy="8.3" dx="-0.3">2</tspan><tspan dy="-8.3" dx="0.2">-annealed</tspan></text>
<text x="198.7" y="151.1" font-size="18.5" fill="#0ac80a" stroke="#0ac80a" stroke-width="0.4">400 <tspan font-size="11.2" dy="-8.6">o</tspan><tspan dy="8.6">C</tspan></text>
<text x="185.7" y="171.8" font-size="18.5" fill="#14e614" stroke="#14e614" stroke-width="0.4">500 <tspan font-size="11.2" dy="-8.6">o</tspan><tspan dy="8.6">C</tspan></text>
<text x="171.6" y="192.8" font-size="18.5" fill="#e8e400" stroke="#e8e400" stroke-width="0.4">600 <tspan font-size="11.2" dy="-8.6">o</tspan><tspan dy="8.6">C</tspan></text>
<text x="158.2" y="213.8" font-size="18.5" fill="#ff8000" stroke="#ff8000" stroke-width="0.4">700 <tspan font-size="11.2" dy="-8.6">o</tspan><tspan dy="8.6">C</tspan></text>
<text x="144.2" y="234.6" font-size="18.5" fill="#ff1414" stroke="#ff1414" stroke-width="0.4">800 <tspan font-size="11.2" dy="-8.6">o</tspan><tspan dy="8.6">C</tspan></text>
<text x="467.7" y="141.9" font-size="18.5" fill="#0ac80a" stroke="#0ac80a" stroke-width="0.4">400 <tspan font-size="11.2" dy="-8.6">o</tspan><tspan dy="8.6">C</tspan></text>
<text x="454.1" y="162.9" font-size="18.5" fill="#14e614" stroke="#14e614" stroke-width="0.4">500 <tspan font-size="11.2" dy="-8.6">o</tspan><tspan dy="8.6">C</tspan></text>
<text x="440.5" y="184.5" font-size="18.5" fill="#e8e400" stroke="#e8e400" stroke-width="0.4">600 <tspan font-size="11.2" dy="-8.6">o</tspan><tspan dy="8.6">C</tspan></text>
<text x="426.8" y="205.5" font-size="18.5" fill="#ff8000" stroke="#ff8000" stroke-width="0.4">700 <tspan font-size="11.2" dy="-8.6">o</tspan><tspan dy="8.6">C</tspan></text>
<text x="413.2" y="226.6" font-size="18.5" fill="#ff1414" stroke="#ff1414" stroke-width="0.4">800 <tspan font-size="11.2" dy="-8.6">o</tspan><tspan dy="8.6">C</tspan></text>
<text x="347.6" y="193.4" font-size="18.5" fill="#0a0a9a" text-anchor="end" stroke="#0a0a9a" stroke-width="0.4">25 <tspan font-size="11.2" dy="-8.6">o</tspan><tspan dy="8.6">C</tspan></text>
<text x="347.6" y="215.8" font-size="18.5" fill="#0000f8" text-anchor="end" stroke="#0000f8" stroke-width="0.4">100 <tspan font-size="11.2" dy="-8.6">o</tspan><tspan dy="8.6">C</tspan></text>
<text x="347.6" y="237.7" font-size="18.5" fill="#3592f5" text-anchor="end" stroke="#3592f5" stroke-width="0.4">200 <tspan font-size="11.2" dy="-8.6">o</tspan><tspan dy="8.6">C</tspan></text>
<text x="347.6" y="260.1" font-size="18.5" fill="#58cdfa" text-anchor="end" stroke="#58cdfa" stroke-width="0.4">300 <tspan font-size="11.2" dy="-8.6">o</tspan><tspan dy="8.6">C</tspan></text>
<text x="623.4" y="195.1" font-size="18.5" fill="#0a0a9a" text-anchor="end" stroke="#0a0a9a" stroke-width="0.4">25 <tspan font-size="11.2" dy="-8.6">o</tspan><tspan dy="8.6">C</tspan></text>
<text x="620.5" y="215.7" font-size="18.5" fill="#0000f8" text-anchor="end" stroke="#0000f8" stroke-width="0.4">100 <tspan font-size="11.2" dy="-8.6">o</tspan><tspan dy="8.6">C</tspan></text>
<text x="606.7" y="237.3" font-size="18.5" fill="#3592f5" text-anchor="end" stroke="#3592f5" stroke-width="0.4">200 <tspan font-size="11.2" dy="-8.6">o</tspan><tspan dy="8.6">C</tspan></text>
<text x="593.0" y="258.3" font-size="18.5" fill="#58cdfa" text-anchor="end" stroke="#58cdfa" stroke-width="0.4">300 <tspan font-size="11.2" dy="-8.6">o</tspan><tspan dy="8.6">C</tspan></text>
<line x1="258.6" y1="145.1" x2="282.7" y2="166.9" stroke="#0ac80a" stroke-width="1.6"/>
<line x1="244.2" y1="167.4" x2="266.9" y2="185.5" stroke="#14e614" stroke-width="1.6"/>
<line x1="230.7" y1="188.7" x2="251.1" y2="205.5" stroke="#e8e400" stroke-width="1.6"/>
<line x1="217.1" y1="209.5" x2="232" y2="222.2" stroke="#ff8000" stroke-width="1.6"/>
<line x1="203.5" y1="230.5" x2="211.5" y2="238.9" stroke="#ff1414" stroke-width="1.6"/>
<line x1="527.5" y1="136.8" x2="548.6" y2="153.4" stroke="#0ac80a" stroke-width="1.6"/>
<line x1="513.4" y1="158.4" x2="530.8" y2="173.3" stroke="#14e614" stroke-width="1.6"/>
<line x1="499" y1="179.4" x2="513.9" y2="191.8" stroke="#e8e400" stroke-width="1.6"/>
<line x1="486.2" y1="200.5" x2="496.6" y2="209.2" stroke="#ff8000" stroke-width="1.6"/>
<line x1="472.6" y1="221.5" x2="480.5" y2="229" stroke="#ff1414" stroke-width="1.6"/>
<line x1="298.5" y1="186.2" x2="292.6" y2="180.2" stroke="#0a0a9a" stroke-width="1.6"/>
<line x1="287.8" y1="209.2" x2="281.5" y2="203.2" stroke="#0000f8" stroke-width="1.6"/>
<line x1="287.8" y1="230.4" x2="271.3" y2="216.8" stroke="#3592f5" stroke-width="1.6"/>
<line x1="287.8" y1="251.7" x2="260.2" y2="225.3" stroke="#58cdfa" stroke-width="1.6"/>
<line x1="576.9" y1="188.2" x2="552" y2="166.5" stroke="#0a0a9a" stroke-width="1.6"/>
<line x1="563.9" y1="210.9" x2="537.9" y2="187.7" stroke="#0000f8" stroke-width="1.6"/>
<line x1="548.8" y1="229.4" x2="525.6" y2="208.1" stroke="#3592f5" stroke-width="1.6"/>
<line x1="533.4" y1="250.7" x2="505.6" y2="226.5" stroke="#58cdfa" stroke-width="1.6"/>
<rect x="103" y="410.4" width="526.4" height="465.1" fill="none" stroke="#000" stroke-width="1.5"/>
<path d="M155.6,875.5V865.5 M208.2,875.5V870.5 M260.9,875.5V865.5 M313.5,875.5V870.5 M366.2,875.5V865.5 M418.9,875.5V870.5 M471.5,875.5V865.5 M524.1,875.5V870.5 M576.8,875.5V865.5 M103,823.8H108 M103,772.1H113 M103,720.4H108 M103,668.7H113 M103,617.1H108 M103,565.4H113 M103,513.7H108 M103,462.0H113 M155.6,410.4V412.4 M208.2,410.4V412.4 M260.9,410.4V412.4 M313.5,410.4V412.4 M366.2,410.4V412.4 M418.9,410.4V412.4 M471.5,410.4V412.4 M524.1,410.4V412.4 M576.8,410.4V412.4 M629.4,823.8H627.4 M629.4,772.1H627.4 M629.4,720.4H627.4 M629.4,668.7H627.4 M629.4,617.1H627.4 M629.4,565.4H627.4 M629.4,513.7H627.4 M629.4,462.0H627.4" stroke="#000" stroke-width="1.4" fill="none"/>
<text x="155.6" y="906" font-size="26" text-anchor="middle" stroke="#000" stroke-width="0.4">0</text>
<text x="260.9" y="906" font-size="26" text-anchor="middle" stroke="#000" stroke-width="0.4">200</text>
<text x="366.2" y="906" font-size="26" text-anchor="middle" stroke="#000" stroke-width="0.4">400</text>
<text x="471.5" y="906" font-size="26" text-anchor="middle" stroke="#000" stroke-width="0.4">600</text>
<text x="576.8" y="906" font-size="26" text-anchor="middle" stroke="#000" stroke-width="0.4">800</text>
<text x="91.8" y="883.5" font-size="26" text-anchor="end" stroke="#000" stroke-width="0.4">3.6</text>
<text x="91.8" y="780.1" font-size="26" text-anchor="end" stroke="#000" stroke-width="0.4">3.8</text>
<text x="91.8" y="676.7" font-size="26" text-anchor="end" stroke="#000" stroke-width="0.4">4.0</text>
<text x="91.8" y="573.4" font-size="26" text-anchor="end" stroke="#000" stroke-width="0.4">4.2</text>
<text x="91.8" y="470.0" font-size="26" text-anchor="end" stroke="#000" stroke-width="0.4">4.4</text>
<text transform="translate(23,643) rotate(-90)" font-size="28" text-anchor="middle" stroke="#000" stroke-width="0.4"><tspan font-style="italic">E</tspan><tspan font-size="19" dy="8" font-style="italic">g</tspan><tspan dy="-8"> (eV)</tspan></text>
<text x="365.5" y="954.8" font-size="28.6" text-anchor="middle" stroke="#000" stroke-width="0.4">Temperature (<tspan font-size="17.5" dy="-11.5">o</tspan><tspan dy="11.5">C)</tspan></text>
<text x="123.5" y="454.4" font-size="28" font-weight="bold" stroke="#000" stroke-width="0.4">(c)</text>
<text x="164.5" y="454.4" font-size="25.5" stroke="#000" stroke-width="0.4"><tspan font-style="italic">epi</tspan>-ITO</text>
<text x="383" y="592.5" font-size="26" fill="#0c0cee" stroke="#0c0cee" stroke-width="0.4">Vacuum-annealed</text>
<text x="157.8" y="778.6" font-size="25.8" fill="#118a11" stroke="#118a11" stroke-width="0.4">O<tspan font-size="16" dy="9.5" dx="-0.8">2</tspan><tspan dy="-9.5">-annealed</tspan></text>
<path d="M103.7,503.2 L107.0,504.4 L111.1,505.8 L116.0,507.5 L121.5,509.4 L127.5,511.4 L133.8,513.7 L140.3,516.0 L147.0,518.5 L153.6,521.0 L160.0,523.6 L166.3,526.2 L172.6,528.9 L179.0,531.7 L185.6,534.6 L192.3,537.6 L199.2,540.8 L206.4,544.1 L213.9,547.6 L221.7,551.2 L230.0,555.1 L238.3,559.0 L246.3,562.7 L254.3,566.5 L262.6,570.3 L271.2,574.5 L280.6,578.9 L291.0,583.9 L302.5,589.4 L315.4,595.7 L330.0,602.8 L347.3,611.2 L367.5,621.1 L389.9,632.1 L413.7,643.8 L438.1,655.8 L462.2,667.7 L485.2,679.0 L506.4,689.5 L525.0,698.6 L540.0,706.0 L551.8,711.8 L561.2,716.4 L568.5,720.0 L574.2,722.8 L578.5,725.0 L581.8,726.6 L584.3,727.8 L586.4,728.9 L588.5,729.9 L590.8,731.0" stroke="#0f0ff5" stroke-width="1.8" fill="none"/>
<path d="M103.0,629.2 L103.5,629.3 L104.0,629.4 L104.3,629.3 L104.8,629.3 L105.5,629.4 L106.5,629.7 L107.9,630.1 L109.9,630.9 L112.6,632.0 L116.0,633.5 L120.1,635.3 L124.6,637.4 L129.7,639.6 L135.2,642.1 L141.3,644.9 L147.9,648.0 L155.1,651.4 L162.8,655.2 L171.1,659.5 L180.0,664.1 L189.9,669.4 L201.1,675.5 L213.1,682.1 L225.9,689.1 L239.0,696.5 L252.2,703.8 L265.2,711.2 L277.7,718.2 L289.4,724.8 L300.0,730.9 L309.5,736.4 L318.2,741.4 L326.3,746.2 L333.9,750.7 L341.2,755.0 L348.5,759.4 L355.8,763.8 L363.4,768.3 L371.4,773.1 L380.0,778.2 L389.4,783.7 L399.3,789.6 L409.7,795.8 L420.3,802.0 L431.1,808.4 L441.7,814.7 L452.1,820.8 L462.0,826.7 L471.4,832.2 L480.0,837.3 L488.1,842.1 L496.0,846.7 L503.7,851.2 L511.0,855.5 L517.9,859.6 L524.2,863.3 L530.0,866.8 L535.2,869.8 L539.6,872.4 L543.2,874.5" stroke="#0f870f" stroke-width="1.8" fill="none"/>
<path d="M168.9,514.6V550.4M158.9,514.6H178.9M158.9,550.4H178.9" stroke="#0f0ff5" stroke-width="1.6"/>
<rect x="161.70000000000002" y="525.1999999999999" width="14.4" height="14.4" rx="1" fill="#0f0ff5"/>
<path d="M208,521.9V562.3M198,521.9H218M198,562.3H218" stroke="#0f0ff5" stroke-width="1.6"/>
<rect x="200.8" y="534.5" width="14.4" height="14.4" rx="1" fill="#0f0ff5"/>
<path d="M260.8,540.1V577.7M250.8,540.1H270.8M250.8,577.7H270.8" stroke="#0f0ff5" stroke-width="1.6"/>
<rect x="253.60000000000002" y="551.6999999999999" width="14.4" height="14.4" rx="1" fill="#0f0ff5"/>
<path d="M313,572.6V613.3M303,572.6H323M303,613.3H323" stroke="#0f0ff5" stroke-width="1.6"/>
<rect x="305.8" y="585.5999999999999" width="14.4" height="14.4" rx="1" fill="#0f0ff5"/>
<path d="M365.8,606.4V635.7M355.8,606.4H375.8M355.8,635.7H375.8" stroke="#0f0ff5" stroke-width="1.6"/>
<rect x="358.6" y="613.1999999999999" width="14.4" height="14.4" rx="1" fill="#0f0ff5"/>
<path d="M418.2,636.6V669.1M408.2,636.6H428.2M408.2,669.1H428.2" stroke="#0f0ff5" stroke-width="1.6"/>
<rect x="411.0" y="645.6999999999999" width="14.4" height="14.4" rx="1" fill="#0f0ff5"/>
<path d="M470.7,664.5V686.3M460.7,664.5H480.7M460.7,686.3H480.7" stroke="#0f0ff5" stroke-width="1.6"/>
<rect x="463.5" y="668.0" width="14.4" height="14.4" rx="1" fill="#0f0ff5"/>
<path d="M523.7,697.9V714.6M513.7,697.9H533.7M513.7,714.6H533.7" stroke="#0f0ff5" stroke-width="1.6"/>
<rect x="516.5" y="699.5999999999999" width="14.4" height="14.4" rx="1" fill="#0f0ff5"/>
<path d="M576.4,712.4V733.6M566.4,712.4H586.4M566.4,733.6H586.4" stroke="#0f0ff5" stroke-width="1.6"/>
<rect x="569.1999999999999" y="715.5999999999999" width="14.4" height="14.4" rx="1" fill="#0f0ff5"/>
<path d="M168.7,644.6V695.2M158.7,644.6H178.7M158.7,695.2H178.7" stroke="#0f870f" stroke-width="1.6"/>
<circle cx="168.7" cy="670.3" r="8.2" fill="#0f870f"/>
<path d="M207.9,654.2V702.3M197.9,654.2H217.9M197.9,702.3H217.9" stroke="#0f870f" stroke-width="1.6"/>
<circle cx="207.9" cy="677.4" r="8.2" fill="#0f870f"/>
<path d="M260.9,673.1V711.9M250.89999999999998,673.1H270.9M250.89999999999998,711.9H270.9" stroke="#0f870f" stroke-width="1.6"/>
<circle cx="260.9" cy="692.3" r="8.2" fill="#0f870f"/>
<path d="M313,705.9V741.1M303,705.9H323M303,741.1H323" stroke="#0f870f" stroke-width="1.6"/>
<circle cx="313" cy="724.3" r="8.2" fill="#0f870f"/>
<path d="M366,753.2V788.1M356,753.2H376M356,788.1H376" stroke="#0f870f" stroke-width="1.6"/>
<circle cx="366" cy="770.2" r="8.2" fill="#0f870f"/>
<path d="M418.2,806.8V837M408.2,806.8H428.2M408.2,837H428.2" stroke="#0f870f" stroke-width="1.6"/>
<circle cx="418.2" cy="821.7" r="8.2" fill="#0f870f"/>
<path d="M470.7,818.4V841.6M460.7,818.4H480.7M460.7,841.6H480.7" stroke="#0f870f" stroke-width="1.6"/>
<circle cx="470.7" cy="830" r="8.2" fill="#0f870f"/>
<path d="M523.7,805.9V820.7M513.7,805.9H533.7M513.7,820.7H533.7" stroke="#0f870f" stroke-width="1.6"/>
<circle cx="523.7" cy="813.8" r="8.2" fill="#0f870f"/>
<path d="M576.1,788.2V804.5M566.1,788.2H586.1M566.1,804.5H586.1" stroke="#0f870f" stroke-width="1.6"/>
<circle cx="576.1" cy="796.6" r="8.2" fill="#0f870f"/>
</svg></body></html>
